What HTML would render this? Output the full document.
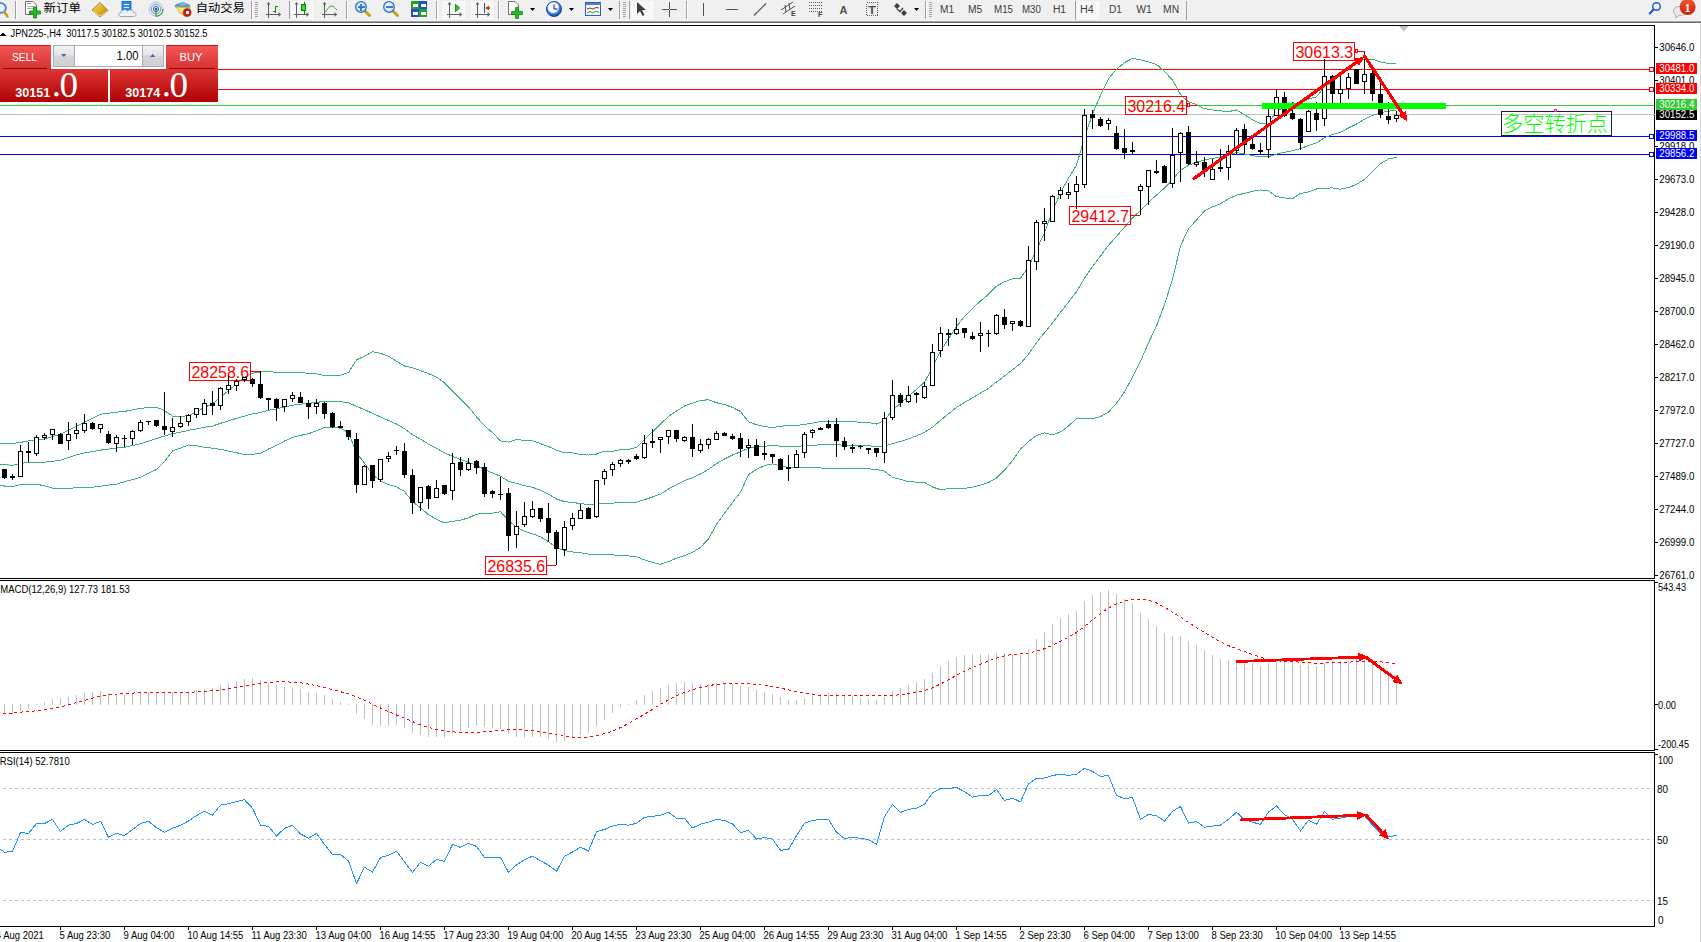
<!DOCTYPE html>
<html lang="zh"><head><meta charset="utf-8"><title>JPN225-,H4</title>
<style>
html,body{margin:0;padding:0;width:1701px;height:942px;overflow:hidden;background:#fff}
svg{display:block}
svg{font-family:"Liberation Sans","Noto Sans CJK SC",sans-serif}
text{shape-rendering:auto}
</style></head><body>
<svg width="1701" height="942" viewBox="0 0 1701 942" shape-rendering="crispEdges">
<rect x="0" y="0" width="1701" height="942" fill="#ffffff"/>
<rect x="0" y="25" width="1655" height="1" fill="#000000"/>
<rect x="1654" y="25" width="1" height="554" fill="#000000"/>
<rect x="0" y="578" width="1655" height="1" fill="#000000"/>
<rect x="0" y="580" width="1655" height="1" fill="#000000"/>
<rect x="1654" y="580" width="1" height="171" fill="#000000"/>
<rect x="0" y="750" width="1655" height="1" fill="#000000"/>
<rect x="0" y="752" width="1655" height="1" fill="#000000"/>
<rect x="1654" y="752" width="1" height="175" fill="#000000"/>
<rect x="0" y="926" width="1655" height="1" fill="#000000"/>
<rect x="1700" y="23" width="1" height="919" fill="#d8d8d8"/>
<polygon points="1399,26 1408.5,26 1403.75,31.5" fill="#c0c0c0" shape-rendering="auto"/>
<rect x="1655" y="47" width="3" height="1" fill="#000000"/>
<text x="1659.3" y="51.2" font-size="10" fill="#000000" text-anchor="start" textLength="35" lengthAdjust="spacingAndGlyphs">30646.0</text>
<rect x="1655" y="80" width="3" height="1" fill="#000000"/>
<text x="1659.3" y="84.2" font-size="10" fill="#000000" text-anchor="start" textLength="35" lengthAdjust="spacingAndGlyphs">30401.0</text>
<rect x="1655" y="146" width="3" height="1" fill="#000000"/>
<text x="1659.3" y="150.2" font-size="10" fill="#000000" text-anchor="start" textLength="35" lengthAdjust="spacingAndGlyphs">29918.0</text>
<rect x="1655" y="179" width="3" height="1" fill="#000000"/>
<text x="1659.3" y="183.2" font-size="10" fill="#000000" text-anchor="start" textLength="35" lengthAdjust="spacingAndGlyphs">29673.0</text>
<rect x="1655" y="212" width="3" height="1" fill="#000000"/>
<text x="1659.3" y="216.2" font-size="10" fill="#000000" text-anchor="start" textLength="35" lengthAdjust="spacingAndGlyphs">29428.0</text>
<rect x="1655" y="245" width="3" height="1" fill="#000000"/>
<text x="1659.3" y="249.2" font-size="10" fill="#000000" text-anchor="start" textLength="35" lengthAdjust="spacingAndGlyphs">29190.0</text>
<rect x="1655" y="278" width="3" height="1" fill="#000000"/>
<text x="1659.3" y="282.2" font-size="10" fill="#000000" text-anchor="start" textLength="35" lengthAdjust="spacingAndGlyphs">28945.0</text>
<rect x="1655" y="311" width="3" height="1" fill="#000000"/>
<text x="1659.3" y="315.2" font-size="10" fill="#000000" text-anchor="start" textLength="35" lengthAdjust="spacingAndGlyphs">28700.0</text>
<rect x="1655" y="344" width="3" height="1" fill="#000000"/>
<text x="1659.3" y="348.2" font-size="10" fill="#000000" text-anchor="start" textLength="35" lengthAdjust="spacingAndGlyphs">28462.0</text>
<rect x="1655" y="377" width="3" height="1" fill="#000000"/>
<text x="1659.3" y="381.2" font-size="10" fill="#000000" text-anchor="start" textLength="35" lengthAdjust="spacingAndGlyphs">28217.0</text>
<rect x="1655" y="410" width="3" height="1" fill="#000000"/>
<text x="1659.3" y="414.2" font-size="10" fill="#000000" text-anchor="start" textLength="35" lengthAdjust="spacingAndGlyphs">27972.0</text>
<rect x="1655" y="443" width="3" height="1" fill="#000000"/>
<text x="1659.3" y="447.2" font-size="10" fill="#000000" text-anchor="start" textLength="35" lengthAdjust="spacingAndGlyphs">27727.0</text>
<rect x="1655" y="476" width="3" height="1" fill="#000000"/>
<text x="1659.3" y="480.2" font-size="10" fill="#000000" text-anchor="start" textLength="35" lengthAdjust="spacingAndGlyphs">27489.0</text>
<rect x="1655" y="509" width="3" height="1" fill="#000000"/>
<text x="1659.3" y="513.2" font-size="10" fill="#000000" text-anchor="start" textLength="35" lengthAdjust="spacingAndGlyphs">27244.0</text>
<rect x="1655" y="542" width="3" height="1" fill="#000000"/>
<text x="1659.3" y="546.2" font-size="10" fill="#000000" text-anchor="start" textLength="35" lengthAdjust="spacingAndGlyphs">26999.0</text>
<rect x="1655" y="575" width="3" height="1" fill="#000000"/>
<text x="1659.3" y="579.2" font-size="10" fill="#000000" text-anchor="start" textLength="35" lengthAdjust="spacingAndGlyphs">26761.0</text>
<rect x="0" y="114" width="1655" height="1" fill="#c0c0c0"/>
<rect x="0" y="69" width="1649" height="1" fill="#ff0000"/>
<rect x="1649.5" y="67.5" width="4" height="4" fill="#fff" stroke="#ff0000" stroke-width="1"/>
<rect x="0" y="89" width="1649" height="1" fill="#ff0000"/>
<rect x="1649.5" y="87.5" width="4" height="4" fill="#fff" stroke="#ff0000" stroke-width="1"/>
<rect x="0" y="136" width="1649" height="1" fill="#0000ff"/>
<rect x="1649.5" y="134.5" width="4" height="4" fill="#fff" stroke="#0000ff" stroke-width="1"/>
<rect x="0" y="154" width="1649" height="1" fill="#0000ff"/>
<rect x="1649.5" y="152.5" width="4" height="4" fill="#fff" stroke="#0000ff" stroke-width="1"/>
<rect x="0" y="105" width="1654" height="1" fill="#32cd32"/>
<polyline points="-3.5,443.75 4.5,443.70 12.5,443.59 20.5,442.35 28.5,440.95 36.5,440.42 44.5,438.95 52.5,436.55 60.5,434.15 68.5,430.15 76.5,426.15 84.5,422.15 92.5,418.15 100.5,414.15 108.5,413.15 116.5,412.15 124.5,411.39 132.5,409.87 140.5,408.34 148.5,407.53 156.5,407.34 164.5,410.56 172.5,416.14 180.5,416.28 188.5,415.77 196.5,412.03 204.5,407.33 212.5,403.92 220.5,397.34 228.5,390.66 236.5,383.98 244.5,377.55 252.5,373.35 260.5,371.82 268.5,371.70 276.5,372.30 284.5,372.90 292.5,372.82 300.5,372.87 308.5,373.11 316.5,373.85 324.5,375.48 332.5,375.58 340.5,375.07 348.5,372.65 356.5,359.90 364.5,356.20 372.5,351.77 380.5,353.25 388.5,356.29 396.5,361.15 404.5,366.05 412.5,367.77 420.5,370.63 428.5,373.55 436.5,377.13 444.5,382.78 452.5,391.11 460.5,399.00 468.5,406.83 476.5,416.85 484.5,425.74 492.5,432.63 500.5,440.89 508.5,442.07 516.5,439.51 524.5,440.45 532.5,440.82 540.5,443.64 548.5,446.58 556.5,450.15 564.5,452.68 572.5,452.93 580.5,454.42 588.5,455.06 596.5,454.04 604.5,451.18 612.5,451.33 620.5,449.66 628.5,449.25 636.5,447.48 644.5,439.45 652.5,431.81 660.5,424.08 668.5,416.39 676.5,411.08 684.5,406.00 692.5,403.05 700.5,400.50 708.5,399.71 716.5,402.78 724.5,404.63 732.5,407.35 740.5,411.58 748.5,421.81 756.5,424.73 764.5,426.62 772.5,427.53 780.5,426.30 788.5,425.32 796.5,425.50 804.5,424.50 812.5,423.04 820.5,421.62 828.5,421.17 836.5,421.33 844.5,421.97 852.5,421.94 860.5,422.05 868.5,422.59 876.5,424.03 884.5,420.51 892.5,410.13 900.5,403.38 908.5,396.13 916.5,389.39 924.5,382.28 932.5,367.37 940.5,351.28 948.5,338.69 956.5,326.57 964.5,316.35 972.5,308.59 980.5,300.91 988.5,294.20 996.5,286.18 1004.5,281.81 1012.5,278.79 1020.5,278.08 1028.5,266.83 1036.5,249.90 1044.5,232.78 1052.5,210.98 1060.5,192.74 1068.5,178.14 1076.5,165.09 1084.5,137.74 1092.5,114.14 1100.5,95.37 1108.5,78.64 1116.5,69.22 1124.5,62.57 1132.5,58.39 1140.5,59.83 1148.5,61.95 1156.5,64.37 1164.5,71.54 1172.5,80.06 1180.5,94.42 1188.5,101.94 1196.5,104.64 1204.5,108.61 1212.5,109.90 1220.5,110.84 1228.5,111.65 1236.5,109.92 1244.5,114.77 1252.5,119.77 1260.5,123.71 1268.5,122.66 1276.5,111.61 1284.5,106.68 1292.5,102.86 1300.5,103.51 1308.5,99.12 1316.5,96.84 1324.5,87.02 1332.5,81.12 1340.5,75.34 1348.5,68.38 1356.5,63.59 1364.5,59.15 1372.5,59.20 1380.5,61.96 1388.5,63.44 1396.5,63.47" fill="none" stroke="#3cb371" stroke-width="1" stroke-linejoin="round"/>
<polyline points="-3.5,464.15 4.5,464.55 12.5,465.35 20.5,463.70 28.5,462.15 36.5,462.15 44.5,462.15 52.5,461.38 60.5,460.15 68.5,457.55 76.5,454.95 84.5,452.95 92.5,451.55 100.5,450.15 108.5,449.05 116.5,447.95 124.5,447.27 132.5,445.50 140.5,443.74 148.5,441.16 156.5,438.45 164.5,436.08 172.5,433.58 180.5,432.16 188.5,430.35 196.5,428.91 204.5,427.29 212.5,426.06 220.5,423.32 228.5,420.86 236.5,418.38 244.5,416.09 252.5,413.86 260.5,412.54 268.5,410.36 276.5,408.88 284.5,406.93 292.5,405.14 300.5,404.15 308.5,403.43 316.5,402.32 324.5,401.48 332.5,401.44 340.5,401.64 348.5,402.66 356.5,406.42 364.5,409.60 372.5,413.38 380.5,416.91 388.5,420.47 396.5,423.95 404.5,428.77 412.5,434.70 420.5,439.17 428.5,444.15 436.5,448.17 444.5,452.84 452.5,456.24 460.5,459.55 468.5,462.36 476.5,465.52 484.5,469.53 492.5,472.90 500.5,476.28 508.5,481.24 516.5,483.35 524.5,485.82 532.5,487.29 540.5,490.25 548.5,494.08 556.5,499.00 564.5,501.65 572.5,502.44 580.5,503.57 588.5,504.55 596.5,504.15 604.5,503.07 612.5,503.11 620.5,502.68 628.5,502.58 636.5,502.13 644.5,499.65 652.5,497.04 660.5,494.21 668.5,488.99 676.5,484.63 684.5,480.73 692.5,477.71 700.5,473.97 708.5,469.31 716.5,463.55 724.5,458.95 732.5,454.95 740.5,451.86 748.5,448.25 756.5,447.01 764.5,446.13 772.5,445.69 780.5,446.10 788.5,446.47 796.5,446.27 804.5,445.82 812.5,445.27 820.5,444.81 828.5,444.68 836.5,444.77 844.5,445.22 852.5,445.15 860.5,445.26 868.5,445.72 876.5,446.69 884.5,445.85 892.5,443.69 900.5,441.38 908.5,438.88 916.5,435.75 924.5,432.39 932.5,427.20 940.5,420.46 948.5,413.74 956.5,407.53 964.5,402.43 972.5,397.83 980.5,393.10 988.5,388.36 996.5,382.10 1004.5,375.98 1012.5,369.68 1020.5,363.62 1028.5,354.19 1036.5,342.67 1044.5,332.80 1052.5,322.89 1060.5,312.33 1068.5,302.14 1076.5,291.72 1084.5,278.13 1092.5,266.43 1100.5,256.01 1108.5,245.34 1116.5,236.27 1124.5,227.23 1132.5,217.83 1140.5,210.47 1148.5,202.34 1156.5,195.15 1164.5,188.06 1172.5,179.73 1180.5,170.14 1188.5,165.34 1196.5,162.31 1204.5,159.77 1212.5,158.43 1220.5,157.27 1228.5,155.25 1236.5,152.55 1244.5,154.03 1252.5,155.55 1260.5,156.84 1268.5,156.66 1276.5,154.12 1284.5,152.32 1292.5,150.72 1300.5,148.48 1308.5,145.54 1316.5,142.91 1324.5,137.61 1332.5,134.51 1340.5,132.28 1348.5,127.97 1356.5,124.02 1364.5,119.23 1372.5,115.45 1380.5,112.82 1388.5,111.18 1396.5,110.43" fill="none" stroke="#3cb371" stroke-width="1" stroke-linejoin="round"/>
<polyline points="-3.5,485.75 4.5,486.01 12.5,486.52 20.5,484.65 28.5,484.45 36.5,484.25 44.5,485.75 52.5,488.15 60.5,488.15 68.5,488.15 76.5,487.89 84.5,487.54 92.5,487.19 100.5,486.21 108.5,485.13 116.5,484.05 124.5,481.77 132.5,479.60 140.5,477.44 148.5,473.31 156.5,469.55 164.5,461.59 172.5,451.03 180.5,448.05 188.5,444.92 196.5,445.80 204.5,447.24 212.5,448.19 220.5,449.30 228.5,451.05 236.5,452.78 244.5,454.63 252.5,454.36 260.5,453.27 268.5,449.02 276.5,445.46 284.5,440.97 292.5,437.47 300.5,435.43 308.5,433.76 316.5,430.80 324.5,427.48 332.5,427.31 340.5,428.21 348.5,432.67 356.5,452.94 364.5,463.01 372.5,474.98 380.5,480.58 388.5,484.66 396.5,486.75 404.5,491.50 412.5,501.64 420.5,507.72 428.5,514.76 436.5,519.21 444.5,522.91 452.5,521.37 460.5,520.10 468.5,517.89 476.5,514.19 484.5,513.32 492.5,513.18 500.5,511.67 508.5,520.41 516.5,527.19 524.5,531.18 532.5,533.75 540.5,536.87 548.5,541.58 556.5,547.85 564.5,550.62 572.5,551.95 580.5,552.72 588.5,554.03 596.5,554.27 604.5,554.96 612.5,554.89 620.5,555.70 628.5,555.91 636.5,556.78 644.5,559.85 652.5,562.28 660.5,564.35 668.5,561.59 676.5,558.19 684.5,555.46 692.5,552.37 700.5,547.45 708.5,538.91 716.5,524.31 724.5,513.28 732.5,502.56 740.5,492.15 748.5,474.69 756.5,469.29 764.5,465.64 772.5,463.85 780.5,465.91 788.5,467.63 796.5,467.04 804.5,467.15 812.5,467.51 820.5,468.00 828.5,468.20 836.5,468.22 844.5,468.48 852.5,468.36 860.5,468.48 868.5,468.86 876.5,469.35 884.5,471.19 892.5,477.25 900.5,479.37 908.5,481.63 916.5,482.12 924.5,482.51 932.5,487.04 940.5,489.64 948.5,488.79 956.5,488.49 964.5,488.51 972.5,487.08 980.5,485.29 988.5,482.52 996.5,478.03 1004.5,470.16 1012.5,460.57 1020.5,449.17 1028.5,441.56 1036.5,435.45 1044.5,432.83 1052.5,434.81 1060.5,431.92 1068.5,426.14 1076.5,418.36 1084.5,418.53 1092.5,418.72 1100.5,416.65 1108.5,412.04 1116.5,403.31 1124.5,391.89 1132.5,377.27 1140.5,361.12 1148.5,342.72 1156.5,325.92 1164.5,304.58 1172.5,279.40 1180.5,245.87 1188.5,228.73 1196.5,219.99 1204.5,210.94 1212.5,206.95 1220.5,203.70 1228.5,198.86 1236.5,195.18 1244.5,193.30 1252.5,191.33 1260.5,189.98 1268.5,190.65 1276.5,196.64 1284.5,197.95 1292.5,198.59 1300.5,193.46 1308.5,191.96 1316.5,188.97 1324.5,188.19 1332.5,187.90 1340.5,189.21 1348.5,187.55 1356.5,184.45 1364.5,179.32 1372.5,171.70 1380.5,163.67 1388.5,158.92 1396.5,157.38" fill="none" stroke="#3cb371" stroke-width="1" stroke-linejoin="round"/>
<rect x="189.5" y="362.5" width="61" height="18" fill="none" stroke="#ff0000" stroke-width="1"/>
<text x="191.5" y="378" font-size="16" fill="#ff0000" text-anchor="start" textLength="57.5" lengthAdjust="spacingAndGlyphs">28258.6</text>
<rect x="251" y="371" width="9" height="1" fill="#ff0000"/>
<rect x="485.5" y="556.5" width="61" height="18" fill="none" stroke="#ff0000" stroke-width="1"/>
<text x="487.5" y="572" font-size="16" fill="#ff0000" text-anchor="start" textLength="57.5" lengthAdjust="spacingAndGlyphs">26835.6</text>
<rect x="547" y="565" width="9" height="1" fill="#ff0000"/>
<rect x="1069.5" y="206.5" width="61" height="18" fill="none" stroke="#ff0000" stroke-width="1"/>
<text x="1071.5" y="222" font-size="16" fill="#ff0000" text-anchor="start" textLength="57.5" lengthAdjust="spacingAndGlyphs">29412.7</text>
<rect x="1131" y="215" width="9" height="1" fill="#ff0000"/>
<rect x="1125.5" y="96.5" width="61" height="18" fill="none" stroke="#ff0000" stroke-width="1"/>
<text x="1127.5" y="112" font-size="16" fill="#ff0000" text-anchor="start" textLength="57.5" lengthAdjust="spacingAndGlyphs">30216.4</text>
<rect x="1187.5" y="103.5" width="2" height="3" fill="#fff" stroke="#ff0000" stroke-width="1"/>
<rect x="1190" y="105" width="8" height="1" fill="#ff0000"/>
<rect x="1293.5" y="42.5" width="61" height="18" fill="none" stroke="#ff0000" stroke-width="1"/>
<text x="1295.5" y="58" font-size="16" fill="#ff0000" text-anchor="start" textLength="57.5" lengthAdjust="spacingAndGlyphs">30613.3</text>
<rect x="1355.5" y="49.5" width="2" height="3" fill="#fff" stroke="#ff0000" stroke-width="1"/>
<rect x="1358" y="51" width="7" height="1" fill="#ff0000"/>
<rect x="4" y="469" width="1" height="10" fill="#000000"/>
<rect x="2" y="469" width="5" height="9" fill="#000000"/>
<rect x="12" y="474" width="1" height="6" fill="#000000"/>
<rect x="10" y="476" width="5" height="2" fill="#000000"/>
<rect x="20" y="445" width="1" height="32" fill="#000000"/>
<rect x="18.5" y="451.5" width="4" height="25" fill="#fff" stroke="#000" stroke-width="1"/>
<rect x="28" y="442" width="1" height="20" fill="#000000"/>
<rect x="26" y="451" width="5" height="2" fill="#000000"/>
<rect x="36" y="435" width="1" height="21" fill="#000000"/>
<rect x="34.5" y="437.5" width="4" height="16" fill="#fff" stroke="#000" stroke-width="1"/>
<rect x="44" y="433" width="1" height="7" fill="#000000"/>
<rect x="42.5" y="435.5" width="4" height="2" fill="#fff" stroke="#000" stroke-width="1"/>
<rect x="52" y="429" width="1" height="11" fill="#000000"/>
<rect x="50.5" y="429.5" width="4" height="5" fill="#fff" stroke="#000" stroke-width="1"/>
<rect x="60" y="433" width="1" height="11" fill="#000000"/>
<rect x="58" y="434" width="5" height="10" fill="#000000"/>
<rect x="68" y="422" width="1" height="28" fill="#000000"/>
<rect x="66.5" y="434.5" width="4" height="6" fill="#fff" stroke="#000" stroke-width="1"/>
<rect x="76" y="423" width="1" height="16" fill="#000000"/>
<rect x="74.5" y="430.5" width="4" height="3" fill="#fff" stroke="#000" stroke-width="1"/>
<rect x="84" y="414" width="1" height="19" fill="#000000"/>
<rect x="82.5" y="423.5" width="4" height="7" fill="#fff" stroke="#000" stroke-width="1"/>
<rect x="92" y="422" width="1" height="8" fill="#000000"/>
<rect x="90" y="423" width="5" height="6" fill="#000000"/>
<rect x="100" y="424" width="1" height="9" fill="#000000"/>
<rect x="98.5" y="424.5" width="4" height="4" fill="#fff" stroke="#000" stroke-width="1"/>
<rect x="108" y="431" width="1" height="13" fill="#000000"/>
<rect x="106" y="434" width="5" height="9" fill="#000000"/>
<rect x="116" y="435" width="1" height="17" fill="#000000"/>
<rect x="114.5" y="437.5" width="4" height="6" fill="#fff" stroke="#000" stroke-width="1"/>
<rect x="124" y="435" width="1" height="12" fill="#000000"/>
<rect x="122" y="438" width="5" height="1" fill="#000000"/>
<rect x="132" y="430" width="1" height="15" fill="#000000"/>
<rect x="130.5" y="431.5" width="4" height="7" fill="#fff" stroke="#000" stroke-width="1"/>
<rect x="140" y="420" width="1" height="12" fill="#000000"/>
<rect x="138.5" y="422.5" width="4" height="8" fill="#fff" stroke="#000" stroke-width="1"/>
<rect x="148" y="421" width="1" height="4" fill="#000000"/>
<rect x="146" y="421" width="5" height="1" fill="#000000"/>
<rect x="156" y="420" width="1" height="7" fill="#000000"/>
<rect x="154" y="420" width="5" height="6" fill="#000000"/>
<rect x="164" y="392" width="1" height="43" fill="#000000"/>
<rect x="162" y="426" width="5" height="4" fill="#000000"/>
<rect x="172" y="418" width="1" height="19" fill="#000000"/>
<rect x="170.5" y="427.5" width="4" height="4" fill="#fff" stroke="#000" stroke-width="1"/>
<rect x="180" y="416" width="1" height="12" fill="#000000"/>
<rect x="178.5" y="423.5" width="4" height="3" fill="#fff" stroke="#000" stroke-width="1"/>
<rect x="188" y="414" width="1" height="12" fill="#000000"/>
<rect x="186.5" y="415.5" width="4" height="6" fill="#fff" stroke="#000" stroke-width="1"/>
<rect x="196" y="408" width="1" height="10" fill="#000000"/>
<rect x="194.5" y="408.5" width="4" height="6" fill="#fff" stroke="#000" stroke-width="1"/>
<rect x="204" y="399" width="1" height="16" fill="#000000"/>
<rect x="202.5" y="403.5" width="4" height="11" fill="#fff" stroke="#000" stroke-width="1"/>
<rect x="212" y="391" width="1" height="24" fill="#000000"/>
<rect x="210" y="403" width="5" height="3" fill="#000000"/>
<rect x="220" y="387" width="1" height="23" fill="#000000"/>
<rect x="218.5" y="388.5" width="4" height="17" fill="#fff" stroke="#000" stroke-width="1"/>
<rect x="228" y="376" width="1" height="18" fill="#000000"/>
<rect x="226.5" y="385.5" width="4" height="4" fill="#fff" stroke="#000" stroke-width="1"/>
<rect x="236" y="379" width="1" height="12" fill="#000000"/>
<rect x="234.5" y="381.5" width="4" height="4" fill="#fff" stroke="#000" stroke-width="1"/>
<rect x="244" y="377" width="1" height="5" fill="#000000"/>
<rect x="242.5" y="377.5" width="4" height="2" fill="#fff" stroke="#000" stroke-width="1"/>
<rect x="252" y="378" width="1" height="9" fill="#000000"/>
<rect x="250" y="379" width="5" height="5" fill="#000000"/>
<rect x="260" y="371" width="1" height="28" fill="#000000"/>
<rect x="258" y="384" width="5" height="14" fill="#000000"/>
<rect x="268" y="398" width="1" height="12" fill="#000000"/>
<rect x="266" y="398" width="5" height="2" fill="#000000"/>
<rect x="276" y="398" width="1" height="23" fill="#000000"/>
<rect x="274" y="399" width="5" height="9" fill="#000000"/>
<rect x="284" y="399" width="1" height="13" fill="#000000"/>
<rect x="282.5" y="399.5" width="4" height="7" fill="#fff" stroke="#000" stroke-width="1"/>
<rect x="292" y="392" width="1" height="10" fill="#000000"/>
<rect x="290.5" y="395.5" width="4" height="3" fill="#fff" stroke="#000" stroke-width="1"/>
<rect x="300" y="392" width="1" height="11" fill="#000000"/>
<rect x="298" y="397" width="5" height="6" fill="#000000"/>
<rect x="308" y="400" width="1" height="19" fill="#000000"/>
<rect x="306" y="403" width="5" height="4" fill="#000000"/>
<rect x="316" y="399" width="1" height="15" fill="#000000"/>
<rect x="314.5" y="403.5" width="4" height="3" fill="#fff" stroke="#000" stroke-width="1"/>
<rect x="324" y="402" width="1" height="17" fill="#000000"/>
<rect x="322" y="403" width="5" height="11" fill="#000000"/>
<rect x="332" y="412" width="1" height="16" fill="#000000"/>
<rect x="330" y="413" width="5" height="14" fill="#000000"/>
<rect x="340" y="421" width="1" height="7" fill="#000000"/>
<rect x="338" y="426" width="5" height="2" fill="#000000"/>
<rect x="348" y="430" width="1" height="10" fill="#000000"/>
<rect x="346" y="430" width="5" height="7" fill="#000000"/>
<rect x="356" y="433" width="1" height="60" fill="#000000"/>
<rect x="354" y="439" width="5" height="46" fill="#000000"/>
<rect x="364" y="465" width="1" height="20" fill="#000000"/>
<rect x="362.5" y="466.5" width="4" height="18" fill="#fff" stroke="#000" stroke-width="1"/>
<rect x="372" y="465" width="1" height="23" fill="#000000"/>
<rect x="370" y="465" width="5" height="16" fill="#000000"/>
<rect x="380" y="459" width="1" height="23" fill="#000000"/>
<rect x="378.5" y="459.5" width="4" height="20" fill="#fff" stroke="#000" stroke-width="1"/>
<rect x="388" y="452" width="1" height="10" fill="#000000"/>
<rect x="386.5" y="456.5" width="4" height="2" fill="#fff" stroke="#000" stroke-width="1"/>
<rect x="396" y="446" width="1" height="9" fill="#000000"/>
<rect x="394" y="450" width="5" height="1" fill="#000000"/>
<rect x="404" y="443" width="1" height="35" fill="#000000"/>
<rect x="402" y="451" width="5" height="24" fill="#000000"/>
<rect x="412" y="469" width="1" height="45" fill="#000000"/>
<rect x="410" y="475" width="5" height="28" fill="#000000"/>
<rect x="420" y="487" width="1" height="24" fill="#000000"/>
<rect x="418.5" y="487.5" width="4" height="15" fill="#fff" stroke="#000" stroke-width="1"/>
<rect x="428" y="485" width="1" height="24" fill="#000000"/>
<rect x="426" y="486" width="5" height="13" fill="#000000"/>
<rect x="436" y="480" width="1" height="18" fill="#000000"/>
<rect x="434.5" y="488.5" width="4" height="9" fill="#fff" stroke="#000" stroke-width="1"/>
<rect x="444" y="485" width="1" height="10" fill="#000000"/>
<rect x="442" y="485" width="5" height="9" fill="#000000"/>
<rect x="452" y="453" width="1" height="47" fill="#000000"/>
<rect x="450.5" y="463.5" width="4" height="27" fill="#fff" stroke="#000" stroke-width="1"/>
<rect x="460" y="457" width="1" height="19" fill="#000000"/>
<rect x="458" y="462" width="5" height="8" fill="#000000"/>
<rect x="468" y="458" width="1" height="13" fill="#000000"/>
<rect x="466.5" y="463.5" width="4" height="6" fill="#fff" stroke="#000" stroke-width="1"/>
<rect x="476" y="460" width="1" height="14" fill="#000000"/>
<rect x="474" y="461" width="5" height="7" fill="#000000"/>
<rect x="484" y="463" width="1" height="34" fill="#000000"/>
<rect x="482" y="467" width="5" height="27" fill="#000000"/>
<rect x="492" y="490" width="1" height="8" fill="#000000"/>
<rect x="490" y="491" width="5" height="3" fill="#000000"/>
<rect x="500" y="477" width="1" height="23" fill="#000000"/>
<rect x="498" y="494" width="5" height="1" fill="#000000"/>
<rect x="508" y="488" width="1" height="63" fill="#000000"/>
<rect x="506" y="493" width="5" height="43" fill="#000000"/>
<rect x="516" y="511" width="1" height="37" fill="#000000"/>
<rect x="514.5" y="526.5" width="4" height="8" fill="#fff" stroke="#000" stroke-width="1"/>
<rect x="524" y="502" width="1" height="25" fill="#000000"/>
<rect x="522.5" y="516.5" width="4" height="8" fill="#fff" stroke="#000" stroke-width="1"/>
<rect x="532" y="501" width="1" height="17" fill="#000000"/>
<rect x="530.5" y="509.5" width="4" height="7" fill="#fff" stroke="#000" stroke-width="1"/>
<rect x="540" y="508" width="1" height="14" fill="#000000"/>
<rect x="538" y="508" width="5" height="11" fill="#000000"/>
<rect x="548" y="503" width="1" height="39" fill="#000000"/>
<rect x="546" y="518" width="5" height="15" fill="#000000"/>
<rect x="556" y="530" width="1" height="35" fill="#000000"/>
<rect x="554" y="532" width="5" height="17" fill="#000000"/>
<rect x="564" y="521" width="1" height="35" fill="#000000"/>
<rect x="562.5" y="527.5" width="4" height="22" fill="#fff" stroke="#000" stroke-width="1"/>
<rect x="572" y="513" width="1" height="17" fill="#000000"/>
<rect x="570.5" y="518.5" width="4" height="7" fill="#fff" stroke="#000" stroke-width="1"/>
<rect x="580" y="504" width="1" height="15" fill="#000000"/>
<rect x="578.5" y="510.5" width="4" height="8" fill="#fff" stroke="#000" stroke-width="1"/>
<rect x="588" y="507" width="1" height="12" fill="#000000"/>
<rect x="586" y="508" width="5" height="11" fill="#000000"/>
<rect x="596" y="480" width="1" height="38" fill="#000000"/>
<rect x="594.5" y="480.5" width="4" height="36" fill="#fff" stroke="#000" stroke-width="1"/>
<rect x="604" y="469" width="1" height="16" fill="#000000"/>
<rect x="602.5" y="471.5" width="4" height="7" fill="#fff" stroke="#000" stroke-width="1"/>
<rect x="612" y="462" width="1" height="14" fill="#000000"/>
<rect x="610.5" y="464.5" width="4" height="5" fill="#fff" stroke="#000" stroke-width="1"/>
<rect x="620" y="459" width="1" height="8" fill="#000000"/>
<rect x="618.5" y="460.5" width="4" height="3" fill="#fff" stroke="#000" stroke-width="1"/>
<rect x="628" y="459" width="1" height="5" fill="#000000"/>
<rect x="626" y="460" width="5" height="2" fill="#000000"/>
<rect x="636" y="454" width="1" height="6" fill="#000000"/>
<rect x="634" y="456" width="5" height="3" fill="#000000"/>
<rect x="644" y="435" width="1" height="24" fill="#000000"/>
<rect x="642.5" y="443.5" width="4" height="14" fill="#fff" stroke="#000" stroke-width="1"/>
<rect x="652" y="429" width="1" height="19" fill="#000000"/>
<rect x="650" y="441" width="5" height="2" fill="#000000"/>
<rect x="660" y="437" width="1" height="16" fill="#000000"/>
<rect x="658.5" y="437.5" width="4" height="2" fill="#fff" stroke="#000" stroke-width="1"/>
<rect x="668" y="430" width="1" height="14" fill="#000000"/>
<rect x="666.5" y="430.5" width="4" height="6" fill="#fff" stroke="#000" stroke-width="1"/>
<rect x="676" y="430" width="1" height="12" fill="#000000"/>
<rect x="674" y="430" width="5" height="9" fill="#000000"/>
<rect x="684" y="436" width="1" height="6" fill="#000000"/>
<rect x="682.5" y="437.5" width="4" height="3" fill="#fff" stroke="#000" stroke-width="1"/>
<rect x="692" y="424" width="1" height="33" fill="#000000"/>
<rect x="690" y="437" width="5" height="12" fill="#000000"/>
<rect x="700" y="439" width="1" height="14" fill="#000000"/>
<rect x="698.5" y="444.5" width="4" height="6" fill="#fff" stroke="#000" stroke-width="1"/>
<rect x="708" y="438" width="1" height="11" fill="#000000"/>
<rect x="706.5" y="439.5" width="4" height="5" fill="#fff" stroke="#000" stroke-width="1"/>
<rect x="716" y="431" width="1" height="9" fill="#000000"/>
<rect x="714.5" y="433.5" width="4" height="6" fill="#fff" stroke="#000" stroke-width="1"/>
<rect x="724" y="432" width="1" height="4" fill="#000000"/>
<rect x="722" y="433" width="5" height="3" fill="#000000"/>
<rect x="732" y="434" width="1" height="6" fill="#000000"/>
<rect x="730" y="436" width="5" height="3" fill="#000000"/>
<rect x="740" y="433" width="1" height="24" fill="#000000"/>
<rect x="738" y="438" width="5" height="11" fill="#000000"/>
<rect x="748" y="439" width="1" height="19" fill="#000000"/>
<rect x="746.5" y="445.5" width="4" height="2" fill="#fff" stroke="#000" stroke-width="1"/>
<rect x="756" y="439" width="1" height="17" fill="#000000"/>
<rect x="754" y="445" width="5" height="11" fill="#000000"/>
<rect x="764" y="441" width="1" height="19" fill="#000000"/>
<rect x="762" y="453" width="5" height="2" fill="#000000"/>
<rect x="772" y="454" width="1" height="9" fill="#000000"/>
<rect x="770" y="454" width="5" height="3" fill="#000000"/>
<rect x="780" y="458" width="1" height="12" fill="#000000"/>
<rect x="778" y="459" width="5" height="11" fill="#000000"/>
<rect x="788" y="455" width="1" height="26" fill="#000000"/>
<rect x="786" y="467" width="5" height="2" fill="#000000"/>
<rect x="796" y="450" width="1" height="18" fill="#000000"/>
<rect x="794.5" y="454.5" width="4" height="13" fill="#fff" stroke="#000" stroke-width="1"/>
<rect x="804" y="432" width="1" height="26" fill="#000000"/>
<rect x="802.5" y="434.5" width="4" height="18" fill="#fff" stroke="#000" stroke-width="1"/>
<rect x="812" y="429" width="1" height="9" fill="#000000"/>
<rect x="810.5" y="430.5" width="4" height="2" fill="#fff" stroke="#000" stroke-width="1"/>
<rect x="820" y="427" width="1" height="3" fill="#000000"/>
<rect x="818" y="428" width="5" height="2" fill="#000000"/>
<rect x="828" y="420" width="1" height="9" fill="#000000"/>
<rect x="826" y="424" width="5" height="4" fill="#000000"/>
<rect x="836" y="418" width="1" height="39" fill="#000000"/>
<rect x="834" y="424" width="5" height="17" fill="#000000"/>
<rect x="844" y="437" width="1" height="13" fill="#000000"/>
<rect x="842" y="441" width="5" height="6" fill="#000000"/>
<rect x="852" y="444" width="1" height="9" fill="#000000"/>
<rect x="850" y="447" width="5" height="2" fill="#000000"/>
<rect x="860" y="445" width="1" height="4" fill="#000000"/>
<rect x="858" y="446" width="5" height="1" fill="#000000"/>
<rect x="868" y="448" width="1" height="6" fill="#000000"/>
<rect x="866" y="448" width="5" height="2" fill="#000000"/>
<rect x="876" y="448" width="1" height="9" fill="#000000"/>
<rect x="874" y="448" width="5" height="5" fill="#000000"/>
<rect x="884" y="412" width="1" height="51" fill="#000000"/>
<rect x="882.5" y="418.5" width="4" height="34" fill="#fff" stroke="#000" stroke-width="1"/>
<rect x="892" y="380" width="1" height="40" fill="#000000"/>
<rect x="890.5" y="395.5" width="4" height="22" fill="#fff" stroke="#000" stroke-width="1"/>
<rect x="900" y="393" width="1" height="14" fill="#000000"/>
<rect x="898" y="395" width="5" height="8" fill="#000000"/>
<rect x="908" y="386" width="1" height="17" fill="#000000"/>
<rect x="906.5" y="395.5" width="4" height="6" fill="#fff" stroke="#000" stroke-width="1"/>
<rect x="916" y="392" width="1" height="11" fill="#000000"/>
<rect x="914" y="393" width="5" height="2" fill="#000000"/>
<rect x="924" y="382" width="1" height="17" fill="#000000"/>
<rect x="922.5" y="386.5" width="4" height="11" fill="#fff" stroke="#000" stroke-width="1"/>
<rect x="932" y="344" width="1" height="42" fill="#000000"/>
<rect x="930.5" y="352.5" width="4" height="33" fill="#fff" stroke="#000" stroke-width="1"/>
<rect x="940" y="327" width="1" height="30" fill="#000000"/>
<rect x="938.5" y="333.5" width="4" height="17" fill="#fff" stroke="#000" stroke-width="1"/>
<rect x="948" y="329" width="1" height="17" fill="#000000"/>
<rect x="946" y="333" width="5" height="2" fill="#000000"/>
<rect x="956" y="318" width="1" height="17" fill="#000000"/>
<rect x="954.5" y="329.5" width="4" height="4" fill="#fff" stroke="#000" stroke-width="1"/>
<rect x="964" y="328" width="1" height="10" fill="#000000"/>
<rect x="962" y="328" width="5" height="5" fill="#000000"/>
<rect x="972" y="332" width="1" height="8" fill="#000000"/>
<rect x="970" y="336" width="5" height="3" fill="#000000"/>
<rect x="980" y="322" width="1" height="30" fill="#000000"/>
<rect x="978.5" y="333.5" width="4" height="2" fill="#fff" stroke="#000" stroke-width="1"/>
<rect x="988" y="330" width="1" height="17" fill="#000000"/>
<rect x="986" y="333" width="5" height="1" fill="#000000"/>
<rect x="996" y="314" width="1" height="21" fill="#000000"/>
<rect x="994.5" y="315.5" width="4" height="18" fill="#fff" stroke="#000" stroke-width="1"/>
<rect x="1004" y="309" width="1" height="20" fill="#000000"/>
<rect x="1002" y="317" width="5" height="8" fill="#000000"/>
<rect x="1012" y="321" width="1" height="10" fill="#000000"/>
<rect x="1010.5" y="321.5" width="4" height="2" fill="#fff" stroke="#000" stroke-width="1"/>
<rect x="1020" y="320" width="1" height="7" fill="#000000"/>
<rect x="1018" y="321" width="5" height="5" fill="#000000"/>
<rect x="1028" y="246" width="1" height="81" fill="#000000"/>
<rect x="1026.5" y="260.5" width="4" height="66" fill="#fff" stroke="#000" stroke-width="1"/>
<rect x="1036" y="220" width="1" height="50" fill="#000000"/>
<rect x="1034.5" y="222.5" width="4" height="39" fill="#fff" stroke="#000" stroke-width="1"/>
<rect x="1044" y="208" width="1" height="33" fill="#000000"/>
<rect x="1042.5" y="221.5" width="4" height="2" fill="#fff" stroke="#000" stroke-width="1"/>
<rect x="1052" y="195" width="1" height="27" fill="#000000"/>
<rect x="1050.5" y="196.5" width="4" height="25" fill="#fff" stroke="#000" stroke-width="1"/>
<rect x="1060" y="187" width="1" height="12" fill="#000000"/>
<rect x="1058.5" y="190.5" width="4" height="4" fill="#fff" stroke="#000" stroke-width="1"/>
<rect x="1068" y="183" width="1" height="16" fill="#000000"/>
<rect x="1066.5" y="192.5" width="4" height="2" fill="#fff" stroke="#000" stroke-width="1"/>
<rect x="1076" y="176" width="1" height="33" fill="#000000"/>
<rect x="1074.5" y="184.5" width="4" height="7" fill="#fff" stroke="#000" stroke-width="1"/>
<rect x="1084" y="109" width="1" height="79" fill="#000000"/>
<rect x="1082.5" y="115.5" width="4" height="69" fill="#fff" stroke="#000" stroke-width="1"/>
<rect x="1092" y="110" width="1" height="19" fill="#000000"/>
<rect x="1090" y="114" width="5" height="4" fill="#000000"/>
<rect x="1100" y="117" width="1" height="10" fill="#000000"/>
<rect x="1098" y="119" width="5" height="7" fill="#000000"/>
<rect x="1108" y="118" width="1" height="12" fill="#000000"/>
<rect x="1106.5" y="120.5" width="4" height="3" fill="#fff" stroke="#000" stroke-width="1"/>
<rect x="1116" y="126" width="1" height="24" fill="#000000"/>
<rect x="1114" y="133" width="5" height="16" fill="#000000"/>
<rect x="1124" y="129" width="1" height="30" fill="#000000"/>
<rect x="1122" y="148" width="5" height="5" fill="#000000"/>
<rect x="1132" y="142" width="1" height="12" fill="#000000"/>
<rect x="1130" y="150" width="5" height="2" fill="#000000"/>
<rect x="1140" y="184" width="1" height="31" fill="#000000"/>
<rect x="1138.5" y="186.5" width="4" height="4" fill="#fff" stroke="#000" stroke-width="1"/>
<rect x="1148" y="170" width="1" height="35" fill="#000000"/>
<rect x="1146.5" y="170.5" width="4" height="16" fill="#fff" stroke="#000" stroke-width="1"/>
<rect x="1156" y="160" width="1" height="14" fill="#000000"/>
<rect x="1154" y="171" width="5" height="2" fill="#000000"/>
<rect x="1164" y="165" width="1" height="18" fill="#000000"/>
<rect x="1162" y="166" width="5" height="17" fill="#000000"/>
<rect x="1172" y="128" width="1" height="60" fill="#000000"/>
<rect x="1170.5" y="155.5" width="4" height="28" fill="#fff" stroke="#000" stroke-width="1"/>
<rect x="1180" y="132" width="1" height="50" fill="#000000"/>
<rect x="1178.5" y="133.5" width="4" height="19" fill="#fff" stroke="#000" stroke-width="1"/>
<rect x="1188" y="126" width="1" height="39" fill="#000000"/>
<rect x="1186" y="132" width="5" height="32" fill="#000000"/>
<rect x="1196" y="151" width="1" height="16" fill="#000000"/>
<rect x="1194.5" y="162.5" width="4" height="2" fill="#fff" stroke="#000" stroke-width="1"/>
<rect x="1204" y="157" width="1" height="20" fill="#000000"/>
<rect x="1202" y="162" width="5" height="9" fill="#000000"/>
<rect x="1212" y="159" width="1" height="21" fill="#000000"/>
<rect x="1210.5" y="169.5" width="4" height="10" fill="#fff" stroke="#000" stroke-width="1"/>
<rect x="1220" y="149" width="1" height="23" fill="#000000"/>
<rect x="1218" y="167" width="5" height="2" fill="#000000"/>
<rect x="1228" y="145" width="1" height="35" fill="#000000"/>
<rect x="1226.5" y="151.5" width="4" height="16" fill="#fff" stroke="#000" stroke-width="1"/>
<rect x="1236" y="128" width="1" height="26" fill="#000000"/>
<rect x="1234.5" y="130.5" width="4" height="20" fill="#fff" stroke="#000" stroke-width="1"/>
<rect x="1244" y="124" width="1" height="30" fill="#000000"/>
<rect x="1242" y="129" width="5" height="16" fill="#000000"/>
<rect x="1252" y="139" width="1" height="11" fill="#000000"/>
<rect x="1250" y="144" width="5" height="5" fill="#000000"/>
<rect x="1260" y="143" width="1" height="11" fill="#000000"/>
<rect x="1258" y="150" width="5" height="2" fill="#000000"/>
<rect x="1268" y="109" width="1" height="49" fill="#000000"/>
<rect x="1266.5" y="116.5" width="4" height="33" fill="#fff" stroke="#000" stroke-width="1"/>
<rect x="1276" y="89" width="1" height="27" fill="#000000"/>
<rect x="1274.5" y="97.5" width="4" height="18" fill="#fff" stroke="#000" stroke-width="1"/>
<rect x="1284" y="92" width="1" height="25" fill="#000000"/>
<rect x="1282" y="97" width="5" height="19" fill="#000000"/>
<rect x="1292" y="102" width="1" height="18" fill="#000000"/>
<rect x="1290" y="113" width="5" height="6" fill="#000000"/>
<rect x="1300" y="118" width="1" height="32" fill="#000000"/>
<rect x="1298" y="119" width="5" height="24" fill="#000000"/>
<rect x="1308" y="110" width="1" height="22" fill="#000000"/>
<rect x="1306.5" y="111.5" width="4" height="20" fill="#fff" stroke="#000" stroke-width="1"/>
<rect x="1316" y="102" width="1" height="29" fill="#000000"/>
<rect x="1314" y="113" width="5" height="7" fill="#000000"/>
<rect x="1324" y="59" width="1" height="67" fill="#000000"/>
<rect x="1322.5" y="76.5" width="4" height="42" fill="#fff" stroke="#000" stroke-width="1"/>
<rect x="1332" y="75" width="1" height="28" fill="#000000"/>
<rect x="1330" y="76" width="5" height="18" fill="#000000"/>
<rect x="1340" y="76" width="1" height="27" fill="#000000"/>
<rect x="1338.5" y="89.5" width="4" height="4" fill="#fff" stroke="#000" stroke-width="1"/>
<rect x="1348" y="73" width="1" height="26" fill="#000000"/>
<rect x="1346.5" y="77.5" width="4" height="11" fill="#fff" stroke="#000" stroke-width="1"/>
<rect x="1356" y="69" width="1" height="15" fill="#000000"/>
<rect x="1354" y="69" width="5" height="15" fill="#000000"/>
<rect x="1364" y="52" width="1" height="42" fill="#000000"/>
<rect x="1362.5" y="74.5" width="4" height="7" fill="#fff" stroke="#000" stroke-width="1"/>
<rect x="1372" y="70" width="1" height="31" fill="#000000"/>
<rect x="1370" y="73" width="5" height="21" fill="#000000"/>
<rect x="1380" y="82" width="1" height="36" fill="#000000"/>
<rect x="1378" y="94" width="5" height="21" fill="#000000"/>
<rect x="1388" y="102" width="1" height="22" fill="#000000"/>
<rect x="1386" y="116" width="5" height="4" fill="#000000"/>
<rect x="1396" y="111" width="1" height="11" fill="#000000"/>
<rect x="1394.5" y="115.5" width="4" height="3" fill="#fff" stroke="#000" stroke-width="1"/>
<rect x="1262" y="103" width="184" height="6" fill="#00ff00"/>
<rect x="1501.5" y="111.5" width="110" height="24" fill="none" stroke="#202020" stroke-width="1"/>
<text x="1502" y="131" font-size="21" fill="#00ff00" text-anchor="start" font-family='"Noto Sans CJK SC","WenQuanYi Zen Hei",sans-serif' font-weight="300" textLength="106" lengthAdjust="spacingAndGlyphs">多空转折点</text>
<rect x="1554.5" y="109.5" width="2" height="2" fill="none" stroke="#ff00ff" stroke-width="1"/>
<rect x="1656" y="63" width="41" height="11" fill="#ff0000"/>
<text x="1659.3" y="71.5" font-size="10" fill="#fff" text-anchor="start" textLength="35" lengthAdjust="spacingAndGlyphs">30481.0</text>
<rect x="1656" y="83" width="41" height="11" fill="#ff0000"/>
<text x="1659.3" y="91.5" font-size="10" fill="#fff" text-anchor="start" textLength="35" lengthAdjust="spacingAndGlyphs">30334.0</text>
<rect x="1656" y="99" width="41" height="11" fill="#32cd32"/>
<text x="1659.3" y="107.5" font-size="10" fill="#fff" text-anchor="start" textLength="35" lengthAdjust="spacingAndGlyphs">30216.4</text>
<rect x="1656" y="110" width="41" height="10" fill="#000000"/>
<text x="1659.3" y="117.5" font-size="10" fill="#fff" text-anchor="start" textLength="35" lengthAdjust="spacingAndGlyphs">30152.5</text>
<rect x="1656" y="130" width="41" height="11" fill="#0000ff"/>
<text x="1659.3" y="138.5" font-size="10" fill="#fff" text-anchor="start" textLength="35" lengthAdjust="spacingAndGlyphs">29988.5</text>
<rect x="1656" y="148" width="41" height="11" fill="#0000ff"/>
<text x="1659.3" y="156.5" font-size="10" fill="#fff" text-anchor="start" textLength="35" lengthAdjust="spacingAndGlyphs">29856.2</text>
<rect x="4" y="704" width="1" height="9" fill="#c0c0c0"/>
<rect x="12" y="704" width="1" height="10" fill="#c0c0c0"/>
<rect x="20" y="704" width="1" height="7" fill="#c0c0c0"/>
<rect x="28" y="704" width="1" height="5" fill="#c0c0c0"/>
<rect x="36" y="704" width="1" height="1" fill="#c0c0c0"/>
<rect x="44" y="702" width="1" height="3" fill="#c0c0c0"/>
<rect x="52" y="699" width="1" height="6" fill="#c0c0c0"/>
<rect x="60" y="698" width="1" height="7" fill="#c0c0c0"/>
<rect x="68" y="697" width="1" height="8" fill="#c0c0c0"/>
<rect x="76" y="695" width="1" height="10" fill="#c0c0c0"/>
<rect x="84" y="693" width="1" height="12" fill="#c0c0c0"/>
<rect x="92" y="692" width="1" height="13" fill="#c0c0c0"/>
<rect x="100" y="691" width="1" height="14" fill="#c0c0c0"/>
<rect x="108" y="693" width="1" height="12" fill="#c0c0c0"/>
<rect x="116" y="694" width="1" height="11" fill="#c0c0c0"/>
<rect x="124" y="695" width="1" height="10" fill="#c0c0c0"/>
<rect x="132" y="694" width="1" height="11" fill="#c0c0c0"/>
<rect x="140" y="692" width="1" height="13" fill="#c0c0c0"/>
<rect x="148" y="692" width="1" height="13" fill="#c0c0c0"/>
<rect x="156" y="692" width="1" height="13" fill="#c0c0c0"/>
<rect x="164" y="692" width="1" height="13" fill="#c0c0c0"/>
<rect x="172" y="692" width="1" height="13" fill="#c0c0c0"/>
<rect x="180" y="693" width="1" height="12" fill="#c0c0c0"/>
<rect x="188" y="692" width="1" height="13" fill="#c0c0c0"/>
<rect x="196" y="690" width="1" height="15" fill="#c0c0c0"/>
<rect x="204" y="689" width="1" height="16" fill="#c0c0c0"/>
<rect x="212" y="688" width="1" height="17" fill="#c0c0c0"/>
<rect x="220" y="685" width="1" height="20" fill="#c0c0c0"/>
<rect x="228" y="683" width="1" height="22" fill="#c0c0c0"/>
<rect x="236" y="681" width="1" height="24" fill="#c0c0c0"/>
<rect x="244" y="679" width="1" height="26" fill="#c0c0c0"/>
<rect x="252" y="678" width="1" height="27" fill="#c0c0c0"/>
<rect x="260" y="680" width="1" height="25" fill="#c0c0c0"/>
<rect x="268" y="683" width="1" height="22" fill="#c0c0c0"/>
<rect x="276" y="685" width="1" height="20" fill="#c0c0c0"/>
<rect x="284" y="687" width="1" height="18" fill="#c0c0c0"/>
<rect x="292" y="688" width="1" height="17" fill="#c0c0c0"/>
<rect x="300" y="689" width="1" height="16" fill="#c0c0c0"/>
<rect x="308" y="692" width="1" height="13" fill="#c0c0c0"/>
<rect x="316" y="693" width="1" height="12" fill="#c0c0c0"/>
<rect x="324" y="695" width="1" height="10" fill="#c0c0c0"/>
<rect x="332" y="699" width="1" height="6" fill="#c0c0c0"/>
<rect x="340" y="702" width="1" height="3" fill="#c0c0c0"/>
<rect x="348" y="704" width="1" height="1" fill="#c0c0c0"/>
<rect x="356" y="704" width="1" height="10" fill="#c0c0c0"/>
<rect x="364" y="704" width="1" height="15" fill="#c0c0c0"/>
<rect x="372" y="704" width="1" height="21" fill="#c0c0c0"/>
<rect x="380" y="704" width="1" height="22" fill="#c0c0c0"/>
<rect x="388" y="704" width="1" height="22" fill="#c0c0c0"/>
<rect x="396" y="704" width="1" height="21" fill="#c0c0c0"/>
<rect x="404" y="704" width="1" height="24" fill="#c0c0c0"/>
<rect x="412" y="704" width="1" height="29" fill="#c0c0c0"/>
<rect x="420" y="704" width="1" height="31" fill="#c0c0c0"/>
<rect x="428" y="704" width="1" height="33" fill="#c0c0c0"/>
<rect x="436" y="704" width="1" height="33" fill="#c0c0c0"/>
<rect x="444" y="704" width="1" height="34" fill="#c0c0c0"/>
<rect x="452" y="704" width="1" height="30" fill="#c0c0c0"/>
<rect x="460" y="704" width="1" height="27" fill="#c0c0c0"/>
<rect x="468" y="704" width="1" height="24" fill="#c0c0c0"/>
<rect x="476" y="704" width="1" height="22" fill="#c0c0c0"/>
<rect x="484" y="704" width="1" height="23" fill="#c0c0c0"/>
<rect x="492" y="704" width="1" height="24" fill="#c0c0c0"/>
<rect x="500" y="704" width="1" height="25" fill="#c0c0c0"/>
<rect x="508" y="704" width="1" height="30" fill="#c0c0c0"/>
<rect x="516" y="704" width="1" height="33" fill="#c0c0c0"/>
<rect x="524" y="704" width="1" height="34" fill="#c0c0c0"/>
<rect x="532" y="704" width="1" height="33" fill="#c0c0c0"/>
<rect x="540" y="704" width="1" height="33" fill="#c0c0c0"/>
<rect x="548" y="704" width="1" height="35" fill="#c0c0c0"/>
<rect x="556" y="704" width="1" height="38" fill="#c0c0c0"/>
<rect x="564" y="704" width="1" height="37" fill="#c0c0c0"/>
<rect x="572" y="704" width="1" height="34" fill="#c0c0c0"/>
<rect x="580" y="704" width="1" height="31" fill="#c0c0c0"/>
<rect x="588" y="704" width="1" height="29" fill="#c0c0c0"/>
<rect x="596" y="704" width="1" height="22" fill="#c0c0c0"/>
<rect x="604" y="704" width="1" height="16" fill="#c0c0c0"/>
<rect x="612" y="704" width="1" height="9" fill="#c0c0c0"/>
<rect x="620" y="704" width="1" height="3" fill="#c0c0c0"/>
<rect x="628" y="704" width="1" height="1" fill="#c0c0c0"/>
<rect x="636" y="700" width="1" height="5" fill="#c0c0c0"/>
<rect x="644" y="695" width="1" height="10" fill="#c0c0c0"/>
<rect x="652" y="691" width="1" height="14" fill="#c0c0c0"/>
<rect x="660" y="688" width="1" height="17" fill="#c0c0c0"/>
<rect x="668" y="685" width="1" height="20" fill="#c0c0c0"/>
<rect x="676" y="683" width="1" height="22" fill="#c0c0c0"/>
<rect x="684" y="682" width="1" height="23" fill="#c0c0c0"/>
<rect x="692" y="683" width="1" height="22" fill="#c0c0c0"/>
<rect x="700" y="684" width="1" height="21" fill="#c0c0c0"/>
<rect x="708" y="684" width="1" height="21" fill="#c0c0c0"/>
<rect x="716" y="683" width="1" height="22" fill="#c0c0c0"/>
<rect x="724" y="683" width="1" height="22" fill="#c0c0c0"/>
<rect x="732" y="684" width="1" height="21" fill="#c0c0c0"/>
<rect x="740" y="686" width="1" height="19" fill="#c0c0c0"/>
<rect x="748" y="687" width="1" height="18" fill="#c0c0c0"/>
<rect x="756" y="690" width="1" height="15" fill="#c0c0c0"/>
<rect x="764" y="692" width="1" height="13" fill="#c0c0c0"/>
<rect x="772" y="694" width="1" height="11" fill="#c0c0c0"/>
<rect x="780" y="697" width="1" height="8" fill="#c0c0c0"/>
<rect x="788" y="700" width="1" height="5" fill="#c0c0c0"/>
<rect x="796" y="700" width="1" height="5" fill="#c0c0c0"/>
<rect x="804" y="698" width="1" height="7" fill="#c0c0c0"/>
<rect x="812" y="696" width="1" height="9" fill="#c0c0c0"/>
<rect x="820" y="694" width="1" height="11" fill="#c0c0c0"/>
<rect x="828" y="693" width="1" height="12" fill="#c0c0c0"/>
<rect x="836" y="693" width="1" height="12" fill="#c0c0c0"/>
<rect x="844" y="695" width="1" height="10" fill="#c0c0c0"/>
<rect x="852" y="696" width="1" height="9" fill="#c0c0c0"/>
<rect x="860" y="698" width="1" height="7" fill="#c0c0c0"/>
<rect x="868" y="699" width="1" height="6" fill="#c0c0c0"/>
<rect x="876" y="700" width="1" height="5" fill="#c0c0c0"/>
<rect x="884" y="697" width="1" height="8" fill="#c0c0c0"/>
<rect x="892" y="691" width="1" height="14" fill="#c0c0c0"/>
<rect x="900" y="688" width="1" height="17" fill="#c0c0c0"/>
<rect x="908" y="685" width="1" height="20" fill="#c0c0c0"/>
<rect x="916" y="682" width="1" height="23" fill="#c0c0c0"/>
<rect x="924" y="679" width="1" height="26" fill="#c0c0c0"/>
<rect x="932" y="673" width="1" height="32" fill="#c0c0c0"/>
<rect x="940" y="666" width="1" height="39" fill="#c0c0c0"/>
<rect x="948" y="661" width="1" height="44" fill="#c0c0c0"/>
<rect x="956" y="657" width="1" height="48" fill="#c0c0c0"/>
<rect x="964" y="655" width="1" height="50" fill="#c0c0c0"/>
<rect x="972" y="654" width="1" height="51" fill="#c0c0c0"/>
<rect x="980" y="654" width="1" height="51" fill="#c0c0c0"/>
<rect x="988" y="654" width="1" height="51" fill="#c0c0c0"/>
<rect x="996" y="653" width="1" height="52" fill="#c0c0c0"/>
<rect x="1004" y="653" width="1" height="52" fill="#c0c0c0"/>
<rect x="1012" y="654" width="1" height="51" fill="#c0c0c0"/>
<rect x="1020" y="655" width="1" height="50" fill="#c0c0c0"/>
<rect x="1028" y="649" width="1" height="56" fill="#c0c0c0"/>
<rect x="1036" y="639" width="1" height="66" fill="#c0c0c0"/>
<rect x="1044" y="632" width="1" height="73" fill="#c0c0c0"/>
<rect x="1052" y="624" width="1" height="81" fill="#c0c0c0"/>
<rect x="1060" y="618" width="1" height="87" fill="#c0c0c0"/>
<rect x="1068" y="614" width="1" height="91" fill="#c0c0c0"/>
<rect x="1076" y="611" width="1" height="94" fill="#c0c0c0"/>
<rect x="1084" y="601" width="1" height="104" fill="#c0c0c0"/>
<rect x="1092" y="595" width="1" height="110" fill="#c0c0c0"/>
<rect x="1100" y="592" width="1" height="113" fill="#c0c0c0"/>
<rect x="1108" y="590" width="1" height="115" fill="#c0c0c0"/>
<rect x="1116" y="594" width="1" height="111" fill="#c0c0c0"/>
<rect x="1124" y="599" width="1" height="106" fill="#c0c0c0"/>
<rect x="1132" y="603" width="1" height="102" fill="#c0c0c0"/>
<rect x="1140" y="613" width="1" height="92" fill="#c0c0c0"/>
<rect x="1148" y="619" width="1" height="86" fill="#c0c0c0"/>
<rect x="1156" y="626" width="1" height="79" fill="#c0c0c0"/>
<rect x="1164" y="633" width="1" height="72" fill="#c0c0c0"/>
<rect x="1172" y="636" width="1" height="69" fill="#c0c0c0"/>
<rect x="1180" y="636" width="1" height="69" fill="#c0c0c0"/>
<rect x="1188" y="641" width="1" height="64" fill="#c0c0c0"/>
<rect x="1196" y="645" width="1" height="60" fill="#c0c0c0"/>
<rect x="1204" y="650" width="1" height="55" fill="#c0c0c0"/>
<rect x="1212" y="655" width="1" height="50" fill="#c0c0c0"/>
<rect x="1220" y="659" width="1" height="46" fill="#c0c0c0"/>
<rect x="1228" y="660" width="1" height="45" fill="#c0c0c0"/>
<rect x="1236" y="660" width="1" height="45" fill="#c0c0c0"/>
<rect x="1244" y="663" width="1" height="42" fill="#c0c0c0"/>
<rect x="1252" y="663" width="1" height="42" fill="#c0c0c0"/>
<rect x="1260" y="666" width="1" height="39" fill="#c0c0c0"/>
<rect x="1268" y="663" width="1" height="42" fill="#c0c0c0"/>
<rect x="1276" y="662" width="1" height="43" fill="#c0c0c0"/>
<rect x="1284" y="661" width="1" height="44" fill="#c0c0c0"/>
<rect x="1292" y="661" width="1" height="44" fill="#c0c0c0"/>
<rect x="1300" y="665" width="1" height="40" fill="#c0c0c0"/>
<rect x="1308" y="665" width="1" height="40" fill="#c0c0c0"/>
<rect x="1316" y="666" width="1" height="39" fill="#c0c0c0"/>
<rect x="1324" y="663" width="1" height="42" fill="#c0c0c0"/>
<rect x="1332" y="661" width="1" height="44" fill="#c0c0c0"/>
<rect x="1340" y="661" width="1" height="44" fill="#c0c0c0"/>
<rect x="1348" y="660" width="1" height="45" fill="#c0c0c0"/>
<rect x="1356" y="659" width="1" height="46" fill="#c0c0c0"/>
<rect x="1364" y="660" width="1" height="45" fill="#c0c0c0"/>
<rect x="1372" y="664" width="1" height="41" fill="#c0c0c0"/>
<rect x="1380" y="668" width="1" height="37" fill="#c0c0c0"/>
<rect x="1388" y="672" width="1" height="33" fill="#c0c0c0"/>
<rect x="1396" y="675" width="1" height="30" fill="#c0c0c0"/>
<polyline points="-3.5,713.00 4.5,713.00 12.5,713.00 20.5,712.10 28.5,711.50 36.5,710.80 44.5,709.80 52.5,708.10 60.5,706.90 68.5,704.66 76.5,702.61 84.5,700.32 92.5,698.23 100.5,696.24 108.5,694.93 116.5,694.02 124.5,693.57 132.5,693.13 140.5,692.61 148.5,692.32 156.5,692.26 164.5,692.31 172.5,692.47 180.5,692.47 188.5,692.33 196.5,691.83 204.5,691.27 212.5,690.79 220.5,689.98 228.5,688.94 236.5,687.69 244.5,686.21 252.5,684.58 260.5,683.23 268.5,682.39 276.5,681.94 284.5,681.83 292.5,682.17 300.5,682.83 308.5,684.06 316.5,685.61 324.5,687.48 332.5,689.57 340.5,691.73 348.5,693.90 356.5,696.88 364.5,700.28 372.5,704.27 380.5,708.02 388.5,711.67 396.5,714.96 404.5,718.16 412.5,721.57 420.5,724.92 428.5,727.48 436.5,729.50 444.5,730.91 452.5,731.80 460.5,732.36 468.5,732.71 476.5,732.47 484.5,731.80 492.5,731.03 500.5,730.13 508.5,729.80 516.5,729.71 524.5,730.13 532.5,730.80 540.5,731.80 548.5,733.27 556.5,734.91 564.5,736.34 572.5,737.33 580.5,737.43 588.5,736.99 596.5,735.66 604.5,733.76 612.5,731.09 620.5,727.53 628.5,723.42 636.5,718.92 644.5,714.19 652.5,709.33 660.5,704.38 668.5,699.87 676.5,695.79 684.5,692.39 692.5,689.74 700.5,687.46 708.5,685.66 716.5,684.37 724.5,683.52 732.5,683.06 740.5,683.14 748.5,683.59 756.5,684.46 764.5,685.47 772.5,686.60 780.5,688.07 788.5,689.93 796.5,691.79 804.5,693.33 812.5,694.47 820.5,695.28 828.5,695.62 836.5,695.73 844.5,695.84 852.5,695.71 860.5,695.46 868.5,695.34 876.5,695.58 884.5,695.69 892.5,695.32 900.5,694.76 908.5,693.86 916.5,692.39 924.5,690.50 932.5,687.73 940.5,684.06 948.5,679.72 956.5,675.29 964.5,671.29 972.5,667.51 980.5,664.07 988.5,660.96 996.5,658.07 1004.5,655.83 1012.5,654.50 1020.5,653.84 1028.5,652.93 1036.5,651.17 1044.5,648.72 1052.5,645.40 1060.5,641.40 1068.5,637.06 1076.5,632.40 1084.5,626.51 1092.5,619.83 1100.5,613.52 1108.5,608.08 1116.5,603.87 1124.5,601.08 1132.5,599.41 1140.5,599.33 1148.5,600.22 1156.5,602.98 1164.5,607.20 1172.5,612.09 1180.5,617.20 1188.5,622.42 1196.5,627.53 1204.5,632.73 1212.5,637.38 1220.5,641.81 1228.5,645.60 1236.5,648.57 1244.5,651.53 1252.5,654.54 1260.5,657.32 1268.5,659.34 1276.5,660.69 1284.5,661.36 1292.5,661.59 1300.5,662.17 1308.5,662.77 1316.5,663.13 1324.5,663.13 1332.5,662.57 1340.5,662.28 1348.5,662.06 1356.5,661.87 1364.5,661.72 1372.5,661.60 1380.5,661.92 1388.5,662.58 1396.5,663.92" fill="none" stroke="#ff0000" stroke-width="1" stroke-linejoin="round" stroke-dasharray="3,3"/>
<rect x="1655" y="582" width="3" height="1" fill="#000000"/>
<text x="1658" y="591" font-size="10" fill="#000000" text-anchor="start" textLength="28" lengthAdjust="spacingAndGlyphs">543.43</text>
<rect x="1655" y="704" width="3" height="1" fill="#000000"/>
<text x="1658" y="708.5" font-size="10" fill="#000000" text-anchor="start" textLength="18" lengthAdjust="spacingAndGlyphs">0.00</text>
<rect x="1655" y="749" width="3" height="1" fill="#000000"/>
<text x="1658" y="747.5" font-size="10" fill="#000000" text-anchor="start" textLength="31" lengthAdjust="spacingAndGlyphs">-200.45</text>
<text x="0.3" y="593" font-size="10" fill="#000000" text-anchor="start" textLength="129.5" lengthAdjust="spacingAndGlyphs">MACD(12,26,9) 127.73 181.53</text>
<line x1="3" y1="788.5" x2="1654" y2="788.5" stroke="#c0c0c0" stroke-width="1" stroke-dasharray="3,3"/>
<line x1="3" y1="839.5" x2="1654" y2="839.5" stroke="#c0c0c0" stroke-width="1" stroke-dasharray="3,3"/>
<line x1="3" y1="900.5" x2="1654" y2="900.5" stroke="#c0c0c0" stroke-width="1" stroke-dasharray="3,3"/>
<polyline points="-3.5,846.50 4.5,852.30 12.5,851.30 20.5,832.40 28.5,833.50 36.5,823.50 44.5,823.50 52.5,819.40 60.5,831.40 68.5,825.20 76.5,823.50 84.5,819.40 92.5,824.50 100.5,821.30 108.5,837.40 116.5,833.30 124.5,835.60 132.5,829.40 140.5,823.50 148.5,821.30 156.5,827.70 164.5,832.40 172.5,828.30 180.5,825.20 188.5,821.00 196.5,815.50 204.5,811.30 212.5,815.20 220.5,805.10 228.5,803.70 236.5,801.50 244.5,799.70 252.5,808.30 260.5,825.20 268.5,826.30 276.5,836.00 284.5,828.40 292.5,825.20 300.5,834.00 308.5,838.10 316.5,833.50 324.5,844.40 332.5,854.40 340.5,854.40 348.5,861.00 356.5,883.50 364.5,867.30 372.5,872.10 380.5,857.50 388.5,855.20 396.5,851.30 404.5,861.70 412.5,872.40 420.5,862.40 428.5,866.30 436.5,859.40 444.5,861.30 452.5,844.40 460.5,847.40 468.5,843.30 476.5,846.40 484.5,857.50 492.5,857.50 500.5,857.50 508.5,872.40 516.5,864.90 524.5,859.60 532.5,856.20 540.5,860.70 548.5,865.20 556.5,871.40 564.5,856.20 572.5,852.00 580.5,847.10 588.5,851.00 596.5,831.90 604.5,829.40 612.5,826.10 620.5,824.30 628.5,825.20 636.5,823.30 644.5,817.30 652.5,816.30 660.5,815.20 668.5,812.20 676.5,818.30 684.5,818.30 692.5,828.00 700.5,824.20 708.5,822.20 716.5,819.40 724.5,820.50 732.5,824.00 740.5,832.70 748.5,830.20 756.5,839.20 764.5,837.40 772.5,839.20 780.5,850.30 788.5,849.40 796.5,835.80 804.5,823.30 812.5,820.50 820.5,819.40 828.5,819.40 836.5,832.30 844.5,838.50 852.5,837.40 860.5,838.30 868.5,839.60 876.5,844.40 884.5,816.60 892.5,804.50 900.5,812.40 908.5,809.40 916.5,808.30 924.5,804.10 932.5,793.00 940.5,788.40 948.5,788.40 956.5,787.50 964.5,791.60 972.5,797.20 980.5,795.40 988.5,795.40 996.5,789.40 1004.5,800.50 1012.5,798.20 1020.5,801.90 1028.5,783.90 1036.5,778.30 1044.5,778.00 1052.5,775.50 1060.5,774.20 1068.5,775.30 1076.5,774.20 1084.5,768.30 1092.5,771.40 1100.5,776.40 1108.5,775.50 1116.5,795.40 1124.5,798.60 1132.5,797.50 1140.5,819.40 1148.5,814.40 1156.5,815.80 1164.5,821.00 1172.5,811.40 1180.5,806.40 1188.5,823.20 1196.5,821.40 1204.5,827.30 1212.5,826.10 1220.5,825.10 1228.5,819.20 1236.5,812.30 1244.5,819.70 1252.5,822.20 1260.5,824.40 1268.5,811.90 1276.5,806.00 1284.5,814.80 1292.5,819.20 1300.5,831.00 1308.5,820.30 1316.5,824.40 1324.5,811.40 1332.5,819.20 1340.5,818.20 1348.5,816.30 1356.5,817.00 1364.5,815.60 1372.5,825.10 1380.5,833.20 1388.5,836.90 1396.5,835.30" fill="none" stroke="#1e90ff" stroke-width="1" stroke-linejoin="round"/>
<rect x="1655" y="754" width="3" height="1" fill="#000000"/>
<text x="1658" y="763.5" font-size="10" fill="#000000" text-anchor="start" textLength="15" lengthAdjust="spacingAndGlyphs">100</text>
<text x="1657" y="792.5" font-size="10" fill="#000000" text-anchor="start" textLength="11" lengthAdjust="spacingAndGlyphs">80</text>
<text x="1657" y="843.5" font-size="10" fill="#000000" text-anchor="start" textLength="11" lengthAdjust="spacingAndGlyphs">50</text>
<text x="1657" y="904.5" font-size="10" fill="#000000" text-anchor="start" textLength="11" lengthAdjust="spacingAndGlyphs">15</text>
<text x="1658" y="923.5" font-size="10" fill="#000000" text-anchor="start">0</text>
<text x="-0.3" y="765" font-size="10" fill="#000000" text-anchor="start" textLength="70" lengthAdjust="spacingAndGlyphs">RSI(14) 52.7810</text>
<line x1="1194" y1="178.5" x2="1358.0" y2="61.2" stroke="#ff0000" stroke-width="3.2" stroke-linecap="round"/>
<polygon points="1364.5,56.5 1359.0,66.0 1353.7,58.7" fill="#ff0000"/>
<line x1="1364.5" y1="56" x2="1403.1" y2="114.8" stroke="#ff0000" stroke-width="3.2" stroke-linecap="round"/>
<polygon points="1407.5,121.5 1398.3,115.6 1405.8,110.7" fill="#ff0000"/>
<line x1="1237" y1="661.5" x2="1360.5" y2="657.1" stroke="#ff0000" stroke-width="2.8" stroke-linecap="round"/>
<polygon points="1368.5,656.8 1358.7,661.7 1358.3,652.7" fill="#ff0000"/>
<line x1="1366" y1="657.3" x2="1396.4" y2="679.7" stroke="#ff0000" stroke-width="3" stroke-linecap="round"/>
<polygon points="1402.8,684.4 1392.1,682.1 1397.4,674.8" fill="#ff0000"/>
<line x1="1241" y1="819.8" x2="1359.0" y2="815.3" stroke="#ff0000" stroke-width="2.8" stroke-linecap="round"/>
<polygon points="1367.0,815.0 1357.2,819.9 1356.8,810.9" fill="#ff0000"/>
<line x1="1366" y1="815" x2="1383.5" y2="833.8" stroke="#ff0000" stroke-width="3" stroke-linecap="round"/>
<polygon points="1389.0,839.6 1378.9,835.4 1385.5,829.2" fill="#ff0000"/>
<rect x="60" y="927" width="1" height="3" fill="#000000"/>
<rect x="124" y="927" width="1" height="3" fill="#000000"/>
<rect x="188" y="927" width="1" height="3" fill="#000000"/>
<rect x="252" y="927" width="1" height="3" fill="#000000"/>
<rect x="316" y="927" width="1" height="3" fill="#000000"/>
<rect x="380" y="927" width="1" height="3" fill="#000000"/>
<rect x="444" y="927" width="1" height="3" fill="#000000"/>
<rect x="508" y="927" width="1" height="3" fill="#000000"/>
<rect x="572" y="927" width="1" height="3" fill="#000000"/>
<rect x="636" y="927" width="1" height="3" fill="#000000"/>
<rect x="700" y="927" width="1" height="3" fill="#000000"/>
<rect x="764" y="927" width="1" height="3" fill="#000000"/>
<rect x="828" y="927" width="1" height="3" fill="#000000"/>
<rect x="892" y="927" width="1" height="3" fill="#000000"/>
<rect x="956" y="927" width="1" height="3" fill="#000000"/>
<rect x="1020" y="927" width="1" height="3" fill="#000000"/>
<rect x="1084" y="927" width="1" height="3" fill="#000000"/>
<rect x="1148" y="927" width="1" height="3" fill="#000000"/>
<rect x="1212" y="927" width="1" height="3" fill="#000000"/>
<rect x="1276" y="927" width="1" height="3" fill="#000000"/>
<rect x="1340" y="927" width="1" height="3" fill="#000000"/>
<text x="-4.2" y="939" font-size="10" fill="#000000" text-anchor="start" textLength="48.1" lengthAdjust="spacingAndGlyphs">4 Aug 2021</text>
<text x="59.5" y="939" font-size="10" fill="#000000" text-anchor="start" textLength="50.7" lengthAdjust="spacingAndGlyphs">5 Aug 23:30</text>
<text x="123.5" y="939" font-size="10" fill="#000000" text-anchor="start" textLength="50.7" lengthAdjust="spacingAndGlyphs">9 Aug 04:00</text>
<text x="187.5" y="939" font-size="10" fill="#000000" text-anchor="start" textLength="55.9" lengthAdjust="spacingAndGlyphs">10 Aug 14:55</text>
<text x="251.5" y="939" font-size="10" fill="#000000" text-anchor="start" textLength="55.2" lengthAdjust="spacingAndGlyphs">11 Aug 23:30</text>
<text x="315.5" y="939" font-size="10" fill="#000000" text-anchor="start" textLength="55.9" lengthAdjust="spacingAndGlyphs">13 Aug 04:00</text>
<text x="379.5" y="939" font-size="10" fill="#000000" text-anchor="start" textLength="55.9" lengthAdjust="spacingAndGlyphs">16 Aug 14:55</text>
<text x="443.5" y="939" font-size="10" fill="#000000" text-anchor="start" textLength="55.9" lengthAdjust="spacingAndGlyphs">17 Aug 23:30</text>
<text x="507.5" y="939" font-size="10" fill="#000000" text-anchor="start" textLength="55.9" lengthAdjust="spacingAndGlyphs">19 Aug 04:00</text>
<text x="571.5" y="939" font-size="10" fill="#000000" text-anchor="start" textLength="55.9" lengthAdjust="spacingAndGlyphs">20 Aug 14:55</text>
<text x="635.5" y="939" font-size="10" fill="#000000" text-anchor="start" textLength="55.9" lengthAdjust="spacingAndGlyphs">23 Aug 23:30</text>
<text x="699.5" y="939" font-size="10" fill="#000000" text-anchor="start" textLength="55.9" lengthAdjust="spacingAndGlyphs">25 Aug 04:00</text>
<text x="763.5" y="939" font-size="10" fill="#000000" text-anchor="start" textLength="55.9" lengthAdjust="spacingAndGlyphs">26 Aug 14:55</text>
<text x="827.5" y="939" font-size="10" fill="#000000" text-anchor="start" textLength="55.9" lengthAdjust="spacingAndGlyphs">29 Aug 23:30</text>
<text x="891.5" y="939" font-size="10" fill="#000000" text-anchor="start" textLength="55.9" lengthAdjust="spacingAndGlyphs">31 Aug 04:00</text>
<text x="955.5" y="939" font-size="10" fill="#000000" text-anchor="start" textLength="51.2" lengthAdjust="spacingAndGlyphs">1 Sep 14:55</text>
<text x="1019.5" y="939" font-size="10" fill="#000000" text-anchor="start" textLength="51.2" lengthAdjust="spacingAndGlyphs">2 Sep 23:30</text>
<text x="1083.5" y="939" font-size="10" fill="#000000" text-anchor="start" textLength="51.2" lengthAdjust="spacingAndGlyphs">6 Sep 04:00</text>
<text x="1147.5" y="939" font-size="10" fill="#000000" text-anchor="start" textLength="51.2" lengthAdjust="spacingAndGlyphs">7 Sep 13:00</text>
<text x="1211.5" y="939" font-size="10" fill="#000000" text-anchor="start" textLength="51.2" lengthAdjust="spacingAndGlyphs">8 Sep 23:30</text>
<text x="1275.5" y="939" font-size="10" fill="#000000" text-anchor="start" textLength="56.4" lengthAdjust="spacingAndGlyphs">10 Sep 04:00</text>
<text x="1339.5" y="939" font-size="10" fill="#000000" text-anchor="start" textLength="56.4" lengthAdjust="spacingAndGlyphs">13 Sep 14:55</text>
<polygon points="0,36 3,32 6,36" fill="#000"/>
<text x="10.5" y="37" font-size="10" fill="#000000" text-anchor="start" textLength="197" lengthAdjust="spacingAndGlyphs" xml:space="preserve">JPN225-,H4  30117.5 30182.5 30102.5 30152.5</text>
<defs>
<linearGradient id="gBtn" x1="0" y1="0" x2="0" y2="1"><stop offset="0" stop-color="#f45858"/><stop offset="1" stop-color="#d83232"/></linearGradient>
<linearGradient id="gPx" x1="0" y1="0" x2="0" y2="1"><stop offset="0" stop-color="#dc3434"/><stop offset="1" stop-color="#b00202"/></linearGradient>
<linearGradient id="gSpin" x1="0" y1="0" x2="0" y2="1"><stop offset="0" stop-color="#f2f2f2"/><stop offset="0.45" stop-color="#e4e4e4"/><stop offset="0.5" stop-color="#d6d6d6"/><stop offset="1" stop-color="#cfcfcf"/></linearGradient>
<linearGradient id="gTb" x1="0" y1="0" x2="0" y2="1"><stop offset="0" stop-color="#f0f0f0"/><stop offset="1" stop-color="#f0f0f0"/></linearGradient>
<linearGradient id="gGold" x1="0" y1="0" x2="1" y2="1"><stop offset="0" stop-color="#f8e070"/><stop offset="0.6" stop-color="#d8a818"/><stop offset="1" stop-color="#a07010"/></linearGradient>
<linearGradient id="gBadge" x1="0" y1="0" x2="0" y2="1"><stop offset="0" stop-color="#ee5a30"/><stop offset="1" stop-color="#d01c08"/></linearGradient>
<radialGradient id="gClock" cx="0.45" cy="0.4" r="0.6"><stop offset="0" stop-color="#ffffff"/><stop offset="0.55" stop-color="#e8f0ff"/><stop offset="0.7" stop-color="#3c7ee0"/><stop offset="1" stop-color="#1040a0"/></radialGradient>
<radialGradient id="gLens" cx="0.45" cy="0.4" r="0.6"><stop offset="0" stop-color="#ffffff"/><stop offset="1" stop-color="#b8d8f8"/></radialGradient>
</defs>
<rect x="0" y="45" width="51" height="24" fill="url(#gBtn)"/>
<rect x="0" y="45" width="51" height="1" fill="#c01818"/>
<rect x="3" y="68" width="44" height="1" fill="#8a0000"/>
<rect x="3" y="69" width="44" height="1" fill="#f07070"/>
<text x="24.5" y="61" font-size="11.5" fill="#ffffff" text-anchor="middle" textLength="25" lengthAdjust="spacingAndGlyphs">SELL</text>
<rect x="166" y="45" width="52" height="24" fill="url(#gBtn)"/>
<rect x="166" y="45" width="52" height="1" fill="#c01818"/>
<rect x="169" y="68" width="46" height="1" fill="#8a0000"/>
<rect x="169" y="69" width="46" height="1" fill="#f07070"/>
<text x="191" y="61" font-size="11.5" fill="#ffffff" text-anchor="middle" textLength="23" lengthAdjust="spacingAndGlyphs">BUY</text>
<rect x="51" y="45" width="115" height="24" fill="#ffffff"/>
<rect x="53.5" y="45.5" width="110" height="21" fill="#ffffff" stroke="#a8acb4" stroke-width="1"/>
<rect x="54" y="46" width="20" height="20" fill="url(#gSpin)"/>
<rect x="74" y="46" width="1" height="21" fill="#a8acb4"/>
<rect x="143" y="46" width="20" height="20" fill="url(#gSpin)"/>
<rect x="142" y="46" width="1" height="21" fill="#a8acb4"/>
<polygon points="61,54 66.5,54 63.75,57" fill="#4a5ec8" shape-rendering="auto"/>
<polygon points="150,57 155.5,57 152.75,54" fill="#4a5ec8" shape-rendering="auto"/>
<text x="138.5" y="59.8" font-size="12" fill="#000000" text-anchor="end" textLength="22" lengthAdjust="spacingAndGlyphs">1.00</text>
<rect x="0" y="70" width="108" height="32" fill="url(#gPx)"/>
<rect x="110" y="70" width="108" height="32" fill="url(#gPx)"/>
<rect x="51" y="69" width="115" height="1" fill="url(#gPx)"/>
<rect x="0" y="69" width="218" height="1" fill="#d83232"/>
<rect x="108" y="70" width="2" height="32" fill="#ffffff"/>
<text x="15.2" y="96.5" font-size="12" fill="#ffffff" text-anchor="start" font-weight="bold" textLength="35" lengthAdjust="spacingAndGlyphs">30151</text>
<text x="125.2" y="96.5" font-size="12" fill="#ffffff" text-anchor="start" font-weight="bold" textLength="35" lengthAdjust="spacingAndGlyphs">30174</text>
<circle cx="56.4" cy="94.3" r="2.2" fill="#fff" shape-rendering="auto"/><circle cx="166.4" cy="94.3" r="2.2" fill="#fff" shape-rendering="auto"/>
<text x="59.6" y="97.3" font-size="35.5" fill="#ffffff" text-anchor="start" font-family='"Liberation Serif",serif' textLength="18.6" lengthAdjust="spacingAndGlyphs">0</text>
<text x="169.6" y="97.3" font-size="35.5" fill="#ffffff" text-anchor="start" font-family='"Liberation Serif",serif' textLength="18.6" lengthAdjust="spacingAndGlyphs">0</text>
<rect x="0" y="0" width="1701" height="21" fill="#f0f0f0"/>
<rect x="0" y="20" width="1701" height="1" fill="#f6f6f6"/>
<rect x="0" y="21" width="1701" height="1" fill="#a0a0a0"/>
<rect x="0" y="22" width="1701" height="1" fill="#6c6c6c"/>
<circle cx="1" cy="8" r="5" fill="url(#gLens)" stroke="#3c78c8" stroke-width="1.5" shape-rendering="auto"/>
<line x1="4.5" y1="12" x2="7.5" y2="16.5" stroke="#c89818" stroke-width="2.5" stroke-linecap="round" shape-rendering="auto"/>
<rect x="15" y="1" width="1" height="18" fill="#a0a0a0"/>
<rect x="16" y="1" width="1" height="18" fill="#ffffff"/>
<path d="M25.5,1.5 H33 L36.5,5 V14.5 H25.5 Z" fill="#ffffff" stroke="#707070" stroke-width="1" shape-rendering="auto"/>
<rect x="27" y="3" width="4" height="1" fill="#909090"/>
<rect x="27" y="6" width="7" height="1" fill="#b0b0b0"/>
<rect x="27" y="8" width="7" height="1" fill="#b0b0b0"/>
<path d="M33.5,7 h3 v4 h4 v3 h-4 v4 h-3 v-4 h-4 v-3 h4 z" fill="#20c020" stroke="#108010" stroke-width="0.8" shape-rendering="auto"/>
<text x="43.5" y="12.4" font-size="11" fill="#000" text-anchor="start" font-family='"Noto Sans CJK SC",sans-serif' textLength="37.5" lengthAdjust="spacingAndGlyphs">新订单</text>
<path d="M92,10 L100,2.5 L108,10.5 L100,17 Z" fill="url(#gGold)" stroke="#a87010" stroke-width="0.8" shape-rendering="auto"/>
<path d="M93,11 L100,16 L107,11" fill="none" stroke="#e8d8a0" stroke-width="1" shape-rendering="auto"/>
<rect x="122" y="1.5" width="9" height="11" fill="#2a8ce8" stroke="#1060b0" stroke-width="0.8" shape-rendering="auto"/>
<rect x="124" y="4" width="5" height="1" fill="#e0f0ff"/>
<rect x="124" y="7" width="5" height="1" fill="#e0f0ff"/>
<path d="M121,16.5 C118,16.5 118,12.5 121,12.5 C121.5,9.5 126,9 127.5,11 C129,9 134,10 133.5,12.5 C137,12.5 137,16.5 133.5,16.5 Z" fill="#eef2f8" stroke="#8090a8" stroke-width="0.8" shape-rendering="auto"/>
<g fill="none" shape-rendering="auto"><circle cx="156" cy="9" r="7" stroke="#a8c0e8" stroke-width="1"/><circle cx="156" cy="9" r="4.8" stroke="#6890d8" stroke-width="1"/><circle cx="156" cy="9" r="2.6" stroke="#3060c0" stroke-width="1"/></g>
<path d="M156,9 V16.5 M156,16.5 C160,16 163,13 163,9" fill="none" stroke="#30a030" stroke-width="1.2" shape-rendering="auto"/>
<circle cx="156" cy="9" r="1.3" fill="#2050c0" shape-rendering="auto"/>
<path d="M179,12 L186,17 L190,13 Z" fill="#f0d040" stroke="#c0a020" stroke-width="0.6" shape-rendering="auto"/>
<ellipse cx="182.5" cy="6" rx="7.5" ry="2.6" fill="#58a8e0" stroke="#3878b8" stroke-width="0.6" shape-rendering="auto"/>
<path d="M178.5,6 C178.5,1.5 186.5,1.5 186.5,6 Z" fill="#78c0f0" stroke="#3878b8" stroke-width="0.6" shape-rendering="auto"/>
<path d="M176,7 L180,13.5 L189,13.5 L190,7.5 Z" fill="#f8e070" stroke="#c8a020" stroke-width="0.6" shape-rendering="auto"/>
<circle cx="187.2" cy="12.6" r="4" fill="#d02010" stroke="#a01008" stroke-width="0.5" shape-rendering="auto"/>
<rect x="186" y="11" width="3" height="3" fill="#ffffff"/>
<text x="195.8" y="12.4" font-size="11" fill="#000" text-anchor="start" font-family='"Noto Sans CJK SC",sans-serif' textLength="49" lengthAdjust="spacingAndGlyphs">自动交易</text>
<rect x="251" y="1" width="1" height="18" fill="#a0a0a0"/>
<rect x="252" y="1" width="1" height="18" fill="#ffffff"/>
<rect x="255" y="2" width="3" height="1" fill="#a8a8a8"/>
<rect x="255" y="4" width="3" height="1" fill="#a8a8a8"/>
<rect x="255" y="6" width="3" height="1" fill="#a8a8a8"/>
<rect x="255" y="8" width="3" height="1" fill="#a8a8a8"/>
<rect x="255" y="10" width="3" height="1" fill="#a8a8a8"/>
<rect x="255" y="12" width="3" height="1" fill="#a8a8a8"/>
<rect x="255" y="14" width="3" height="1" fill="#a8a8a8"/>
<rect x="255" y="16" width="3" height="1" fill="#a8a8a8"/>
<rect x="268" y="3" width="1" height="14" fill="#606060"/>
<rect x="266" y="14" width="15" height="1" fill="#606060"/>
<polygon points="266.5,4.5 268.5,2 270.5,4.5" fill="#606060" shape-rendering="auto"/>
<polygon points="278.5,12 281,14.5 278.5,17" fill="#606060" shape-rendering="auto"/>
<rect x="268" y="15" width="1" height="3" fill="#606060"/>
<rect x="275" y="6" width="1" height="7" fill="#109010"/>
<rect x="276" y="6" width="2" height="1" fill="#109010"/>
<rect x="273" y="11" width="2" height="1" fill="#109010"/>
<rect x="289" y="1" width="1" height="18" fill="#a0a0a0"/>
<rect x="290" y="1" width="1" height="18" fill="#ffffff"/>
<rect x="290" y="0" width="24" height="20" fill="#f8f8f8" stroke="none"/>
<rect x="290" y="0" width="24" height="20" fill="none" stroke="#e4e4e4" stroke-dasharray="1,1"/>
<rect x="296" y="3" width="1" height="14" fill="#606060"/>
<rect x="294" y="14" width="15" height="1" fill="#606060"/>
<polygon points="294.5,4.5 296.5,2 298.5,4.5" fill="#606060" shape-rendering="auto"/>
<polygon points="306.5,12 309,14.5 306.5,17" fill="#606060" shape-rendering="auto"/>
<rect x="296" y="15" width="1" height="3" fill="#606060"/>
<rect x="304" y="2" width="1" height="12" fill="#108010"/>
<rect x="301.5" y="4.5" width="4" height="6" fill="#30e030" stroke="#108010" stroke-width="1"/>
<rect x="324" y="3" width="1" height="14" fill="#606060"/>
<rect x="322" y="14" width="15" height="1" fill="#606060"/>
<polygon points="322.5,4.5 324.5,2 326.5,4.5" fill="#606060" shape-rendering="auto"/>
<polygon points="334.5,12 337,14.5 334.5,17" fill="#606060" shape-rendering="auto"/>
<rect x="324" y="15" width="1" height="3" fill="#606060"/>
<path d="M325.5,12 C328,8 330,5.5 332,6 C334,6.5 335,8.5 337,10" fill="none" stroke="#30a030" stroke-width="1" shape-rendering="auto"/>
<rect x="346" y="1" width="1" height="18" fill="#a0a0a0"/>
<rect x="347" y="1" width="1" height="18" fill="#ffffff"/>
<line x1="364.5" y1="10.5" x2="369.5" y2="15.5" stroke="#c8a010" stroke-width="3" stroke-linecap="round" shape-rendering="auto"/>
<circle cx="361" cy="7" r="5.3" fill="url(#gLens)" stroke="#2a70c8" stroke-width="1.3" shape-rendering="auto"/>
<rect x="358" y="6" width="7" height="2" fill="#3a78c8"/>
<rect x="360" y="4" width="2" height="7" fill="#3a78c8"/>
<line x1="392.5" y1="10.5" x2="397.5" y2="15.5" stroke="#c8a010" stroke-width="3" stroke-linecap="round" shape-rendering="auto"/>
<circle cx="389" cy="7" r="5.3" fill="url(#gLens)" stroke="#2a70c8" stroke-width="1.3" shape-rendering="auto"/>
<rect x="386" y="6" width="7" height="2" fill="#3a78c8"/>
<rect x="411" y="1" width="8" height="8" fill="#28a028"/>
<rect x="419" y="1" width="8" height="8" fill="#2050c8"/>
<rect x="411" y="9" width="8" height="8" fill="#2050c8"/>
<rect x="419" y="9" width="8" height="8" fill="#28a028"/>
<rect x="413" y="4" width="5" height="3" fill="#ffffff"/>
<rect x="421" y="4" width="5" height="3" fill="#ffffff"/>
<rect x="413" y="12" width="5" height="3" fill="#ffffff"/>
<rect x="421" y="12" width="5" height="3" fill="#ffffff"/>
<rect x="436" y="1" width="1" height="18" fill="#a0a0a0"/>
<rect x="437" y="1" width="1" height="18" fill="#ffffff"/>
<rect x="441" y="0" width="25" height="20" fill="#f8f8f8" stroke="none"/>
<rect x="441" y="0" width="25" height="20" fill="none" stroke="#e4e4e4" stroke-dasharray="1,1"/>
<rect x="449" y="3" width="1" height="14" fill="#606060"/>
<rect x="447" y="14" width="15" height="1" fill="#606060"/>
<polygon points="447.5,4.5 449.5,2 451.5,4.5" fill="#606060" shape-rendering="auto"/>
<polygon points="459.5,12 462,14.5 459.5,17" fill="#606060" shape-rendering="auto"/>
<rect x="449" y="15" width="1" height="3" fill="#606060"/>
<polygon points="455,4 460,8 455,12" fill="#30c030" stroke="#108010" stroke-width="0.6"/>
<rect x="470" y="0" width="24" height="20" fill="#f8f8f8" stroke="none"/>
<rect x="470" y="0" width="24" height="20" fill="none" stroke="#e4e4e4" stroke-dasharray="1,1"/>
<rect x="477" y="3" width="1" height="14" fill="#606060"/>
<rect x="475" y="14" width="15" height="1" fill="#606060"/>
<polygon points="475.5,4.5 477.5,2 479.5,4.5" fill="#606060" shape-rendering="auto"/>
<polygon points="487.5,12 490,14.5 487.5,17" fill="#606060" shape-rendering="auto"/>
<rect x="477" y="15" width="1" height="3" fill="#606060"/>
<rect x="484" y="3" width="1" height="10" fill="#1060b0"/>
<polygon points="485,8 489,5.5 489,10.5" fill="#e04010" shape-rendering="auto"/>
<rect x="486" y="7" width="4" height="2" fill="#e04010"/>
<rect x="498" y="1" width="1" height="18" fill="#a0a0a0"/>
<rect x="499" y="1" width="1" height="18" fill="#ffffff"/>
<path d="M508.5,1.5 H515 L518.5,5 V14.5 H508.5 Z" fill="#ffffff" stroke="#707070" stroke-width="1" shape-rendering="auto"/>
<path d="M515.5,7.5 h3 v4 h4 v3 h-4 v4 h-3 v-4 h-4 v-3 h4 z" fill="#20c020" stroke="#108010" stroke-width="0.8" shape-rendering="auto"/>
<polygon points="530,8 535,8 532.5,11" fill="#000" shape-rendering="auto"/>
<circle cx="554" cy="9" r="7.5" fill="url(#gClock)" stroke="#1848a8" stroke-width="1" shape-rendering="auto"/>
<path d="M554,4.5 V9 H557.5" fill="none" stroke="#202020" stroke-width="1" shape-rendering="auto"/>
<polygon points="569,8 574,8 571.5,11" fill="#000" shape-rendering="auto"/>
<rect x="585.5" y="2.5" width="15" height="13" fill="#f4f8ff" stroke="#3060b0" stroke-width="1"/>
<rect x="586" y="3" width="15" height="2" fill="#4a80d0"/>
<path d="M587,9 L590,8 L593,9 L596,7.5 L599,8" fill="none" stroke="#b02020" stroke-width="1" shape-rendering="auto"/>
<path d="M587,13 L590,11.5 L593,13 L596,11 L599,12.5" fill="none" stroke="#20a020" stroke-width="1" shape-rendering="auto"/>
<polygon points="608,8 613,8 610.5,11" fill="#000" shape-rendering="auto"/>
<rect x="619" y="1" width="1" height="18" fill="#a0a0a0"/>
<rect x="620" y="1" width="1" height="18" fill="#ffffff"/>
<rect x="623" y="2" width="3" height="1" fill="#a8a8a8"/>
<rect x="623" y="4" width="3" height="1" fill="#a8a8a8"/>
<rect x="623" y="6" width="3" height="1" fill="#a8a8a8"/>
<rect x="623" y="8" width="3" height="1" fill="#a8a8a8"/>
<rect x="623" y="10" width="3" height="1" fill="#a8a8a8"/>
<rect x="623" y="12" width="3" height="1" fill="#a8a8a8"/>
<rect x="623" y="14" width="3" height="1" fill="#a8a8a8"/>
<rect x="623" y="16" width="3" height="1" fill="#a8a8a8"/>
<rect x="629" y="1" width="1" height="18" fill="#a0a0a0"/>
<rect x="630" y="0" width="24" height="20" fill="#f8f8f8" stroke="none"/>
<rect x="630" y="0" width="24" height="20" fill="none" stroke="#e4e4e4" stroke-dasharray="1,1"/>
<path d="M637,2 L637,14 L640,11 L642.5,16 L644.5,15 L642,10 L646,10 Z" fill="#404040" shape-rendering="auto"/>
<rect x="669" y="2" width="1" height="15" fill="#505050"/>
<rect x="662" y="9" width="15" height="1" fill="#505050"/>
<rect x="669" y="9" width="1" height="1" fill="#f0f0f0"/>
<rect x="686" y="1" width="1" height="18" fill="#a0a0a0"/>
<rect x="687" y="1" width="1" height="18" fill="#ffffff"/>
<rect x="703" y="3" width="1" height="13" fill="#505050"/>
<rect x="726" y="9" width="12" height="1" fill="#505050"/>
<line x1="754" y1="15.5" x2="766" y2="3.5" stroke="#505050" stroke-width="1.1" shape-rendering="auto"/>
<g stroke="#505050" stroke-width="1" fill="none" shape-rendering="auto"><line x1="781" y1="10" x2="793" y2="2"/><line x1="783" y1="14" x2="795" y2="6"/><line x1="785" y1="5" x2="786" y2="12"/><line x1="789" y1="3" x2="790" y2="10"/></g>
<text x="791" y="16" font-size="7" fill="#404040" text-anchor="start" font-weight="bold">E</text>
<line x1="809" y1="2.5" x2="822" y2="2.5" stroke="#606060" stroke-width="1" stroke-dasharray="1,1"/>
<line x1="809" y1="5.5" x2="822" y2="5.5" stroke="#606060" stroke-width="1" stroke-dasharray="1,1"/>
<line x1="809" y1="8.5" x2="822" y2="8.5" stroke="#606060" stroke-width="1" stroke-dasharray="1,1"/>
<line x1="809" y1="11.5" x2="822" y2="11.5" stroke="#606060" stroke-width="1" stroke-dasharray="1,1"/>
<text x="818" y="16.5" font-size="7" fill="#404040" text-anchor="start" font-weight="bold">F</text>
<text x="839.5" y="13.8" font-size="11.5" fill="#505050" text-anchor="start" font-weight="bold" textLength="8" lengthAdjust="spacingAndGlyphs">A</text>
<rect x="866.5" y="2.5" width="11" height="13" fill="none" stroke="#606060" stroke-width="1" stroke-dasharray="1,1"/>
<text x="868" y="13.5" font-size="11.5" fill="#505050" text-anchor="start" font-weight="bold" textLength="8" lengthAdjust="spacingAndGlyphs">T</text>
<path d="M897,3 L900,6 L897,9 L894,6 Z M904,10 L907,13 L904,16 L901,13 Z" fill="#404040" shape-rendering="auto"/>
<path d="M897,9 L900,11.5 L903,8" fill="none" stroke="#404040" stroke-width="1.3" shape-rendering="auto"/>
<polygon points="914,8 919,8 916.5,11" fill="#000" shape-rendering="auto"/>
<rect x="925" y="1" width="1" height="18" fill="#a0a0a0"/>
<rect x="926" y="1" width="1" height="18" fill="#ffffff"/>
<rect x="929" y="2" width="3" height="1" fill="#a8a8a8"/>
<rect x="929" y="4" width="3" height="1" fill="#a8a8a8"/>
<rect x="929" y="6" width="3" height="1" fill="#a8a8a8"/>
<rect x="929" y="8" width="3" height="1" fill="#a8a8a8"/>
<rect x="929" y="10" width="3" height="1" fill="#a8a8a8"/>
<rect x="929" y="12" width="3" height="1" fill="#a8a8a8"/>
<rect x="929" y="14" width="3" height="1" fill="#a8a8a8"/>
<rect x="929" y="16" width="3" height="1" fill="#a8a8a8"/>
<rect x="1075" y="1" width="1" height="19" fill="#a0a0a0"/>
<rect x="1076" y="0" width="24" height="20" fill="#f8f8f8" stroke="none"/>
<rect x="1076" y="0" width="24" height="20" fill="none" stroke="#e4e4e4" stroke-dasharray="1,1"/>
<text x="939.9" y="13" font-size="10" fill="#404040" text-anchor="start" textLength="14.2" lengthAdjust="spacingAndGlyphs">M1</text>
<text x="968.0" y="13" font-size="10" fill="#404040" text-anchor="start" textLength="14.2" lengthAdjust="spacingAndGlyphs">M5</text>
<text x="994.0" y="13" font-size="10" fill="#404040" text-anchor="start" textLength="19.0" lengthAdjust="spacingAndGlyphs">M15</text>
<text x="1022.0" y="13" font-size="10" fill="#404040" text-anchor="start" textLength="18.8" lengthAdjust="spacingAndGlyphs">M30</text>
<text x="1052.8999999999999" y="13" font-size="10" fill="#404040" text-anchor="start" textLength="13.2" lengthAdjust="spacingAndGlyphs">H1</text>
<text x="1080.0" y="13" font-size="10" fill="#404040" text-anchor="start" textLength="13.8" lengthAdjust="spacingAndGlyphs">H4</text>
<text x="1109.1" y="13" font-size="10" fill="#404040" text-anchor="start" textLength="12.8" lengthAdjust="spacingAndGlyphs">D1</text>
<text x="1136.2" y="13" font-size="10" fill="#404040" text-anchor="start" textLength="15.7" lengthAdjust="spacingAndGlyphs">W1</text>
<text x="1163.1" y="13" font-size="10" fill="#404040" text-anchor="start" textLength="16.0" lengthAdjust="spacingAndGlyphs">MN</text>
<rect x="1186" y="1" width="1" height="19" fill="#a0a0a0"/>
<circle cx="1656.5" cy="6.5" r="3.8" fill="#f4f4ff" stroke="#2458d0" stroke-width="1.5" shape-rendering="auto"/>
<line x1="1653.5" y1="9.5" x2="1649.8" y2="13.5" stroke="#2458d0" stroke-width="2.2" stroke-linecap="round" shape-rendering="auto"/>
<path d="M1676,15.5 L1675.5,18 L1679,15.5 C1684,15.5 1685,13 1685,11.5 C1685,8 1682,6.5 1679,6.5 C1675.5,6.5 1673.5,8.5 1673.5,11 C1673.5,13 1674.5,14.5 1676,15.5 Z" fill="#e8e8f0" stroke="#a0a0a0" stroke-width="0.8" shape-rendering="auto"/>
<circle cx="1687.6" cy="7" r="8" fill="url(#gBadge)" shape-rendering="auto"/>
<text x="1687.6" y="11.5" font-size="12" fill="#ffffff" text-anchor="middle" font-family='"Liberation Serif",serif' font-weight="bold">1</text>
</svg>
</body></html>
